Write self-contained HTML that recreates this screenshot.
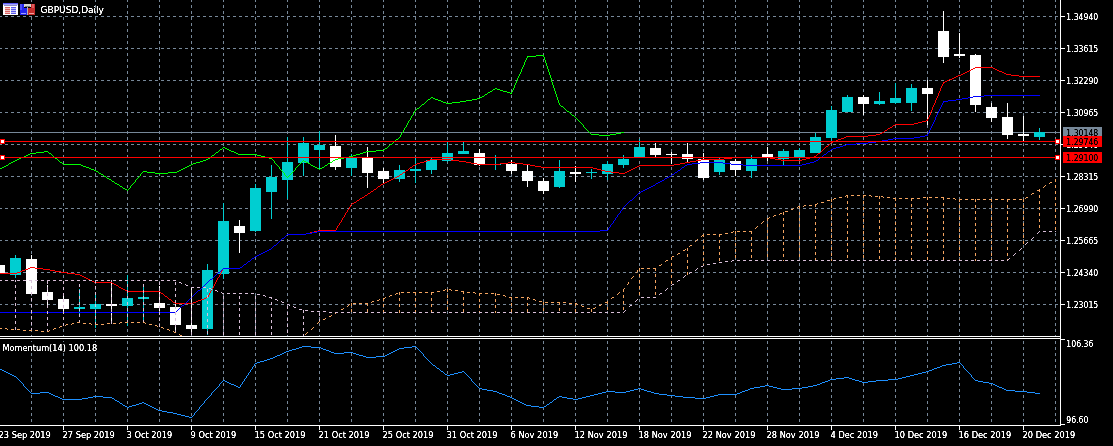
<!DOCTYPE html><html><head><meta charset="utf-8"><title>GBPUSD,Daily</title><style>html,body{margin:0;padding:0;background:#000;width:1113px;height:446px;overflow:hidden}svg{display:block}</style></head><body><svg width="1113" height="446" viewBox="0 0 1113 446" shape-rendering="crispEdges"><rect x="0" y="0" width="1113" height="446" fill="#000"/><defs><clipPath id="cm"><rect x="0" y="0" width="1060" height="336"/></clipPath><clipPath id="cs"><rect x="0" y="339" width="1060" height="86"/></clipPath></defs><path d="M31.5 0V336M63.5 0V336M95.5 0V336M127.5 0V336M159.5 0V336M191.5 0V336M223.5 0V336M255.5 0V336M287.5 0V336M319.5 0V336M351.5 0V336M383.5 0V336M415.5 0V336M447.5 0V336M479.5 0V336M511.5 0V336M543.5 0V336M575.5 0V336M607.5 0V336M639.5 0V336M671.5 0V336M703.5 0V336M735.5 0V336M767.5 0V336M799.5 0V336M831.5 0V336M863.5 0V336M895.5 0V336M927.5 0V336M959.5 0V336M991.5 0V336M1023.5 0V336M1055.5 0V336M0 16.5H1060M0 48.5H1060M0 80.5H1060M0 112.5H1060M0 144.5H1060M0 176.5H1060M0 208.5H1060M0 240.5H1060M0 272.5H1060M0 304.5H1060" stroke="#778899" stroke-width="1" stroke-dasharray="3 3" stroke-dashoffset="1" fill="none"/><path d="M31.5 339V425M63.5 339V425M95.5 339V425M127.5 339V425M159.5 339V425M191.5 339V425M223.5 339V425M255.5 339V425M287.5 339V425M319.5 339V425M351.5 339V425M383.5 339V425M415.5 339V425M447.5 339V425M479.5 339V425M511.5 339V425M543.5 339V425M575.5 339V425M607.5 339V425M639.5 339V425M671.5 339V425M703.5 339V425M735.5 339V425M767.5 339V425M799.5 339V425M831.5 339V425M863.5 339V425M895.5 339V425M927.5 339V425M959.5 339V425M991.5 339V425M1023.5 339V425M1055.5 339V425" stroke="#778899" stroke-width="1" stroke-dasharray="3 3" stroke-dashoffset="4" fill="none"/><g clip-path="url(#cm)"><path d="M0 132.5H1060" stroke="#778899" fill="none"/><rect x="-1" y="262" width="1" height="15" fill="#FFFFFF"/><rect x="-6" y="265" width="11" height="8" fill="#FFFFFF"/><rect x="15" y="255" width="1" height="23" fill="#00CED1"/><rect x="10" y="258" width="11" height="17" fill="#00CED1"/><rect x="31" y="255" width="1" height="39" fill="#FFFFFF"/><rect x="26" y="259" width="11" height="35" fill="#FFFFFF"/><rect x="47" y="285" width="1" height="20" fill="#FFFFFF"/><rect x="42" y="292" width="11" height="8" fill="#FFFFFF"/><rect x="63" y="294" width="1" height="18" fill="#FFFFFF"/><rect x="58" y="299" width="11" height="10" fill="#FFFFFF"/><rect x="79" y="289" width="1" height="28" fill="#00CED1"/><rect x="74" y="307" width="11" height="2" fill="#00CED1"/><rect x="95" y="294" width="1" height="34" fill="#00CED1"/><rect x="90" y="304" width="11" height="5" fill="#00CED1"/><rect x="111" y="283" width="1" height="41" fill="#FFFFFF"/><rect x="106" y="304" width="11" height="2" fill="#FFFFFF"/><rect x="127" y="275" width="1" height="51" fill="#00CED1"/><rect x="122" y="298" width="11" height="8" fill="#00CED1"/><rect x="143" y="284" width="1" height="38" fill="#00CED1"/><rect x="138" y="297" width="11" height="2" fill="#00CED1"/><rect x="159" y="286" width="1" height="25" fill="#FFFFFF"/><rect x="154" y="303" width="11" height="5" fill="#FFFFFF"/><rect x="175" y="304" width="1" height="29" fill="#FFFFFF"/><rect x="170" y="307" width="11" height="18" fill="#FFFFFF"/><rect x="191" y="287" width="1" height="46" fill="#FFFFFF"/><rect x="186" y="325" width="11" height="4" fill="#FFFFFF"/><rect x="207" y="264" width="1" height="71" fill="#00CED1"/><rect x="202" y="270" width="11" height="59" fill="#00CED1"/><rect x="223" y="203" width="1" height="76" fill="#00CED1"/><rect x="218" y="221" width="11" height="53" fill="#00CED1"/><rect x="239" y="220" width="1" height="33" fill="#FFFFFF"/><rect x="234" y="226" width="11" height="7" fill="#FFFFFF"/><rect x="255" y="184" width="1" height="48" fill="#00CED1"/><rect x="250" y="188" width="11" height="43" fill="#00CED1"/><rect x="271" y="165" width="1" height="54" fill="#00CED1"/><rect x="266" y="177" width="11" height="15" fill="#00CED1"/><rect x="287" y="137" width="1" height="62" fill="#00CED1"/><rect x="282" y="162" width="11" height="18" fill="#00CED1"/><rect x="303" y="137" width="1" height="39" fill="#00CED1"/><rect x="298" y="143" width="11" height="20" fill="#00CED1"/><rect x="319" y="131" width="1" height="39" fill="#00CED1"/><rect x="314" y="145" width="11" height="5" fill="#00CED1"/><rect x="335" y="135" width="1" height="35" fill="#FFFFFF"/><rect x="330" y="146" width="11" height="21" fill="#FFFFFF"/><rect x="351" y="154" width="1" height="22" fill="#00CED1"/><rect x="346" y="158" width="11" height="10" fill="#00CED1"/><rect x="367" y="147" width="1" height="41" fill="#FFFFFF"/><rect x="362" y="158" width="11" height="15" fill="#FFFFFF"/><rect x="383" y="168" width="1" height="15" fill="#FFFFFF"/><rect x="378" y="171" width="11" height="8" fill="#FFFFFF"/><rect x="399" y="165" width="1" height="17" fill="#00CED1"/><rect x="394" y="170" width="11" height="9" fill="#00CED1"/><rect x="415" y="158" width="1" height="25" fill="#00CED1"/><rect x="410" y="169" width="11" height="2" fill="#00CED1"/><rect x="431" y="158" width="1" height="16" fill="#00CED1"/><rect x="426" y="160" width="11" height="10" fill="#00CED1"/><rect x="447" y="142" width="1" height="20" fill="#00CED1"/><rect x="442" y="153" width="11" height="8" fill="#00CED1"/><rect x="463" y="142" width="1" height="12" fill="#00CED1"/><rect x="458" y="151" width="11" height="3" fill="#00CED1"/><rect x="479" y="149" width="1" height="17" fill="#FFFFFF"/><rect x="474" y="153" width="11" height="12" fill="#FFFFFF"/><rect x="495" y="155" width="1" height="15" fill="#00CED1"/><rect x="490" y="164" width="11" height="1" fill="#00CED1"/><rect x="511" y="160" width="1" height="14" fill="#FFFFFF"/><rect x="506" y="164" width="11" height="7" fill="#FFFFFF"/><rect x="527" y="165" width="1" height="22" fill="#FFFFFF"/><rect x="522" y="171" width="11" height="10" fill="#FFFFFF"/><rect x="543" y="178" width="1" height="16" fill="#FFFFFF"/><rect x="538" y="181" width="11" height="10" fill="#FFFFFF"/><rect x="559" y="160" width="1" height="28" fill="#00CED1"/><rect x="554" y="171" width="11" height="16" fill="#00CED1"/><rect x="575" y="166" width="1" height="16" fill="#FFFFFF"/><rect x="570" y="172" width="11" height="2" fill="#FFFFFF"/><rect x="591" y="169" width="1" height="10" fill="#00CED1"/><rect x="586" y="172" width="11" height="1" fill="#00CED1"/><rect x="607" y="161" width="1" height="19" fill="#00CED1"/><rect x="602" y="164" width="11" height="10" fill="#00CED1"/><rect x="623" y="155" width="1" height="13" fill="#00CED1"/><rect x="618" y="159" width="11" height="6" fill="#00CED1"/><rect x="639" y="139" width="1" height="18" fill="#00CED1"/><rect x="634" y="147" width="11" height="10" fill="#00CED1"/><rect x="655" y="143" width="1" height="14" fill="#FFFFFF"/><rect x="650" y="148" width="11" height="7" fill="#FFFFFF"/><rect x="671" y="152" width="1" height="12" fill="#FFFFFF"/><rect x="666" y="154" width="11" height="1" fill="#FFFFFF"/><rect x="687" y="143" width="1" height="19" fill="#FFFFFF"/><rect x="682" y="154" width="11" height="5" fill="#FFFFFF"/><rect x="703" y="153" width="1" height="27" fill="#FFFFFF"/><rect x="698" y="159" width="11" height="19" fill="#FFFFFF"/><rect x="719" y="158" width="1" height="17" fill="#00CED1"/><rect x="714" y="160" width="11" height="12" fill="#00CED1"/><rect x="735" y="159" width="1" height="17" fill="#FFFFFF"/><rect x="730" y="161" width="11" height="9" fill="#FFFFFF"/><rect x="751" y="155" width="1" height="23" fill="#00CED1"/><rect x="746" y="159" width="11" height="12" fill="#00CED1"/><rect x="767" y="147" width="1" height="14" fill="#FFFFFF"/><rect x="762" y="154" width="11" height="3" fill="#FFFFFF"/><rect x="783" y="149" width="1" height="16" fill="#00CED1"/><rect x="778" y="151" width="11" height="8" fill="#00CED1"/><rect x="799" y="148" width="1" height="13" fill="#00CED1"/><rect x="794" y="150" width="11" height="7" fill="#00CED1"/><rect x="815" y="133" width="1" height="20" fill="#00CED1"/><rect x="810" y="137" width="11" height="16" fill="#00CED1"/><rect x="831" y="106" width="1" height="36" fill="#00CED1"/><rect x="826" y="110" width="11" height="28" fill="#00CED1"/><rect x="847" y="95" width="1" height="17" fill="#00CED1"/><rect x="842" y="97" width="11" height="15" fill="#00CED1"/><rect x="863" y="95" width="1" height="20" fill="#FFFFFF"/><rect x="858" y="97" width="11" height="7" fill="#FFFFFF"/><rect x="879" y="92" width="1" height="13" fill="#00CED1"/><rect x="874" y="101" width="11" height="3" fill="#00CED1"/><rect x="895" y="83" width="1" height="21" fill="#00CED1"/><rect x="890" y="98" width="11" height="5" fill="#00CED1"/><rect x="911" y="84" width="1" height="27" fill="#00CED1"/><rect x="906" y="88" width="11" height="15" fill="#00CED1"/><rect x="927" y="80" width="1" height="45" fill="#FFFFFF"/><rect x="922" y="88" width="11" height="6" fill="#FFFFFF"/><rect x="943" y="11" width="1" height="52" fill="#FFFFFF"/><rect x="938" y="31" width="11" height="26" fill="#FFFFFF"/><rect x="959" y="33" width="1" height="25" fill="#FFFFFF"/><rect x="954" y="54" width="11" height="2" fill="#FFFFFF"/><rect x="975" y="54" width="1" height="58" fill="#FFFFFF"/><rect x="970" y="55" width="11" height="50" fill="#FFFFFF"/><rect x="991" y="103" width="1" height="19" fill="#FFFFFF"/><rect x="986" y="107" width="11" height="11" fill="#FFFFFF"/><rect x="1007" y="103" width="1" height="36" fill="#FFFFFF"/><rect x="1002" y="117" width="11" height="18" fill="#FFFFFF"/><rect x="1023" y="116" width="1" height="25" fill="#FFFFFF"/><rect x="1018" y="134" width="11" height="2" fill="#FFFFFF"/><rect x="1039" y="128" width="1" height="12" fill="#00CED1"/><rect x="1034" y="132" width="11" height="5" fill="#00CED1"/><path d="M975 67h18v1h-18zM973 68h2v1h-2zM993 68h2v1h-2zM971 69h2v1h-2zM995 69h2v1h-2zM969 70h2v1h-2zM997 70h2v1h-2zM967 71h2v1h-2zM999 71h3v1h-3zM965 72h2v1h-2zM1002 72h2v1h-2zM963 73h2v1h-2zM1004 73h2v1h-2zM961 74h2v1h-2zM1006 74h5v1h-5zM958 75h3v1h-3zM1011 75h8v1h-8zM956 76h2v1h-2zM1019 76h21v1h-21zM954 77h2v1h-2zM952 78h2v1h-2zM949 79h3v1h-3zM947 80h2v1h-2zM945 81h2v1h-2zM943 82h2v1h-2zM943 83h1v1h-1zM942 84h1v1h-1zM942 85h1v1h-1zM941 86h1v1h-1zM941 87h1v1h-1zM940 88h1v1h-1zM940 89h1v1h-1zM940 90h1v1h-1zM939 91h1v1h-1zM939 92h1v1h-1zM938 93h1v1h-1zM938 94h1v1h-1zM938 95h1v1h-1zM937 96h1v1h-1zM937 97h1v1h-1zM936 98h1v1h-1zM936 99h1v1h-1zM935 100h1v1h-1zM935 101h1v1h-1zM935 102h1v1h-1zM934 103h1v1h-1zM934 104h1v1h-1zM933 105h1v1h-1zM933 106h1v1h-1zM932 107h1v1h-1zM932 108h1v1h-1zM932 109h1v1h-1zM931 110h1v1h-1zM931 111h1v1h-1zM930 112h1v1h-1zM930 113h1v1h-1zM930 114h1v1h-1zM929 115h1v1h-1zM929 116h1v1h-1zM928 117h1v1h-1zM928 118h1v1h-1zM927 119h1v1h-1zM926 120h2v1h-2zM922 121h4v1h-4zM918 122h4v1h-4zM914 123h4v1h-4zM895 124h19v1h-19zM893 125h2v1h-2zM892 126h1v1h-1zM890 127h2v1h-2zM888 128h2v1h-2zM887 129h1v1h-1zM885 130h2v1h-2zM884 131h1v1h-1zM882 132h2v1h-2zM880 133h2v1h-2zM876 134h4v1h-4zM868 135h8v1h-8zM846 136h22v1h-22zM844 137h2v1h-2zM841 138h3v1h-3zM838 139h3v1h-3zM836 140h2v1h-2zM833 141h3v1h-3zM831 142h2v1h-2zM830 143h1v1h-1zM829 144h1v1h-1zM828 145h1v1h-1zM826 146h2v1h-2zM825 147h1v1h-1zM824 148h1v1h-1zM823 149h1v1h-1zM822 150h1v1h-1zM821 151h1v1h-1zM820 152h1v1h-1zM818 153h2v1h-2zM817 154h1v1h-1zM816 155h1v1h-1zM814 156h2v1h-2zM732 157h38v1h-38zM810 157h4v1h-4zM724 158h8v1h-8zM770 158h5v1h-5zM806 158h4v1h-4zM430 159h21v1h-21zM701 159h23v1h-23zM775 159h6v1h-6zM802 159h4v1h-4zM427 160h3v1h-3zM451 160h8v1h-8zM696 160h5v1h-5zM781 160h21v1h-21zM424 161h3v1h-3zM459 161h7v1h-7zM690 161h6v1h-6zM420 162h4v1h-4zM466 162h5v1h-5zM508 162h7v1h-7zM685 162h5v1h-5zM417 163h3v1h-3zM471 163h6v1h-6zM500 163h8v1h-8zM515 163h8v1h-8zM680 163h5v1h-5zM415 164h2v1h-2zM477 164h23v1h-23zM523 164h7v1h-7zM674 164h6v1h-6zM413 165h2v1h-2zM530 165h5v1h-5zM639 165h35v1h-35zM412 166h1v1h-1zM535 166h6v1h-6zM637 166h2v1h-2zM410 167h2v1h-2zM541 167h52v1h-52zM635 167h2v1h-2zM409 168h1v1h-1zM593 168h4v1h-4zM633 168h2v1h-2zM408 169h1v1h-1zM597 169h4v1h-4zM631 169h2v1h-2zM406 170h2v1h-2zM601 170h4v1h-4zM629 170h2v1h-2zM405 171h1v1h-1zM605 171h6v1h-6zM627 171h2v1h-2zM403 172h2v1h-2zM611 172h8v1h-8zM625 172h2v1h-2zM402 173h1v1h-1zM619 173h6v1h-6zM400 174h2v1h-2zM399 175h1v1h-1zM397 176h2v1h-2zM395 177h2v1h-2zM393 178h2v1h-2zM391 179h2v1h-2zM389 180h2v1h-2zM387 181h2v1h-2zM385 182h2v1h-2zM383 183h2v1h-2zM381 184h2v1h-2zM380 185h1v1h-1zM378 186h2v1h-2zM377 187h1v1h-1zM376 188h1v1h-1zM374 189h2v1h-2zM373 190h1v1h-1zM371 191h2v1h-2zM370 192h1v1h-1zM368 193h2v1h-2zM367 194h1v1h-1zM365 195h2v1h-2zM364 196h1v1h-1zM362 197h2v1h-2zM360 198h2v1h-2zM359 199h1v1h-1zM357 200h2v1h-2zM356 201h1v1h-1zM354 202h2v1h-2zM352 203h2v1h-2zM351 204h1v1h-1zM350 205h1v1h-1zM350 206h1v1h-1zM349 207h1v1h-1zM349 208h1v1h-1zM348 209h1v1h-1zM347 210h1v1h-1zM347 211h1v1h-1zM346 212h1v1h-1zM345 213h1v1h-1zM345 214h1v1h-1zM344 215h1v1h-1zM344 216h1v1h-1zM343 217h1v1h-1zM342 218h1v1h-1zM342 219h1v1h-1zM341 220h1v1h-1zM341 221h1v1h-1zM340 222h1v1h-1zM339 223h1v1h-1zM339 224h1v1h-1zM338 225h1v1h-1zM337 226h1v1h-1zM337 227h1v1h-1zM336 228h1v1h-1zM336 229h1v1h-1zM318 230h18v1h-18zM314 231h4v1h-4zM310 232h4v1h-4zM306 233h4v1h-4zM287 234h19v1h-19zM286 235h1v1h-1zM285 236h1v1h-1zM284 237h1v1h-1zM282 238h2v1h-2zM281 239h1v1h-1zM280 240h1v1h-1zM279 241h1v1h-1zM278 242h1v1h-1zM277 243h1v1h-1zM276 244h1v1h-1zM274 245h2v1h-2zM273 246h1v1h-1zM272 247h1v1h-1zM271 248h1v1h-1zM269 249h2v1h-2zM267 250h2v1h-2zM265 251h2v1h-2zM263 252h2v1h-2zM261 253h2v1h-2zM259 254h2v1h-2zM257 255h2v1h-2zM255 256h2v1h-2zM254 257h1v1h-1zM252 258h2v1h-2zM251 259h1v1h-1zM250 260h1v1h-1zM248 261h2v1h-2zM247 262h1v1h-1zM246 263h1v1h-1zM244 264h2v1h-2zM243 265h1v1h-1zM242 266h1v1h-1zM30 267h5v1h-5zM240 267h2v1h-2zM28 268h2v1h-2zM35 268h8v1h-8zM223 268h17v1h-17zM25 269h3v1h-3zM43 269h7v1h-7zM222 269h1v1h-1zM22 270h3v1h-3zM50 270h5v1h-5zM222 270h1v1h-1zM20 271h2v1h-2zM55 271h6v1h-6zM221 271h1v1h-1zM17 272h3v1h-3zM61 272h6v1h-6zM221 272h1v1h-1zM0 273h17v1h-17zM67 273h8v1h-8zM220 273h1v1h-1zM75 274h5v1h-5zM220 274h1v1h-1zM80 275h2v1h-2zM219 275h1v1h-1zM82 276h2v1h-2zM219 276h1v1h-1zM84 277h2v1h-2zM218 277h1v1h-1zM86 278h2v1h-2zM217 278h1v1h-1zM88 279h2v1h-2zM217 279h1v1h-1zM90 280h2v1h-2zM216 280h1v1h-1zM92 281h2v1h-2zM216 281h1v1h-1zM94 282h18v1h-18zM215 282h1v1h-1zM112 283h2v1h-2zM215 283h1v1h-1zM114 284h2v1h-2zM214 284h1v1h-1zM116 285h2v1h-2zM214 285h1v1h-1zM118 286h1v1h-1zM213 286h1v1h-1zM119 287h2v1h-2zM213 287h1v1h-1zM121 288h2v1h-2zM212 288h1v1h-1zM123 289h2v1h-2zM211 289h1v1h-1zM125 290h2v1h-2zM211 290h1v1h-1zM127 291h33v1h-33zM210 291h1v1h-1zM160 292h1v1h-1zM210 292h1v1h-1zM161 293h2v1h-2zM209 293h1v1h-1zM163 294h1v1h-1zM209 294h1v1h-1zM164 295h1v1h-1zM208 295h1v1h-1zM165 296h2v1h-2zM208 296h1v1h-1zM167 297h1v1h-1zM206 297h2v1h-2zM168 298h1v1h-1zM204 298h2v1h-2zM169 299h2v1h-2zM201 299h3v1h-3zM171 300h1v1h-1zM198 300h3v1h-3zM172 301h1v1h-1zM196 301h2v1h-2zM173 302h2v1h-2zM193 302h3v1h-3zM175 303h18v1h-18z" fill="#FF0000" shape-rendering="crispEdges"/><path d="M984 95h56v1h-56zM973 96h11v1h-11zM968 97h5v1h-5zM962 98h6v1h-6zM956 99h6v1h-6zM948 100h8v1h-8zM943 101h5v1h-5zM943 102h1v1h-1zM942 103h1v1h-1zM942 104h1v1h-1zM941 105h1v1h-1zM941 106h1v1h-1zM940 107h1v1h-1zM940 108h1v1h-1zM939 109h1v1h-1zM939 110h1v1h-1zM938 111h1v1h-1zM938 112h1v1h-1zM937 113h1v1h-1zM937 114h1v1h-1zM936 115h1v1h-1zM936 116h1v1h-1zM935 117h1v1h-1zM935 118h1v1h-1zM935 119h1v1h-1zM934 120h1v1h-1zM934 121h1v1h-1zM933 122h1v1h-1zM933 123h1v1h-1zM932 124h1v1h-1zM932 125h1v1h-1zM931 126h1v1h-1zM931 127h1v1h-1zM930 128h1v1h-1zM930 129h1v1h-1zM929 130h1v1h-1zM929 131h1v1h-1zM928 132h1v1h-1zM928 133h1v1h-1zM927 134h1v1h-1zM925 135h3v1h-3zM920 136h5v1h-5zM914 137h6v1h-6zM893 138h21v1h-21zM888 139h5v1h-5zM882 140h6v1h-6zM876 141h6v1h-6zM868 142h8v1h-8zM856 143h12v1h-12zM846 144h10v1h-10zM843 145h3v1h-3zM840 146h3v1h-3zM836 147h4v1h-4zM833 148h3v1h-3zM831 149h2v1h-2zM830 150h1v1h-1zM828 151h2v1h-2zM827 152h1v1h-1zM826 153h1v1h-1zM824 154h2v1h-2zM823 155h1v1h-1zM822 156h1v1h-1zM820 157h2v1h-2zM819 158h1v1h-1zM818 159h1v1h-1zM816 160h2v1h-2zM814 161h2v1h-2zM700 162h23v1h-23zM810 162h4v1h-4zM692 163h8v1h-8zM723 163h8v1h-8zM806 163h4v1h-4zM687 164h5v1h-5zM731 164h12v1h-12zM802 164h4v1h-4zM685 165h2v1h-2zM743 165h59v1h-59zM684 166h1v1h-1zM682 167h2v1h-2zM681 168h1v1h-1zM680 169h1v1h-1zM678 170h2v1h-2zM677 171h1v1h-1zM675 172h2v1h-2zM674 173h1v1h-1zM672 174h2v1h-2zM671 175h1v1h-1zM669 176h2v1h-2zM667 177h2v1h-2zM665 178h2v1h-2zM664 179h1v1h-1zM662 180h2v1h-2zM660 181h2v1h-2zM658 182h2v1h-2zM656 183h2v1h-2zM655 184h1v1h-1zM653 185h2v1h-2zM651 186h2v1h-2zM649 187h2v1h-2zM647 188h2v1h-2zM645 189h2v1h-2zM643 190h2v1h-2zM641 191h2v1h-2zM639 192h2v1h-2zM638 193h1v1h-1zM637 194h1v1h-1zM636 195h1v1h-1zM635 196h1v1h-1zM634 197h1v1h-1zM633 198h1v1h-1zM632 199h1v1h-1zM630 200h2v1h-2zM629 201h1v1h-1zM628 202h1v1h-1zM627 203h1v1h-1zM626 204h1v1h-1zM625 205h1v1h-1zM624 206h1v1h-1zM623 207h1v1h-1zM622 208h1v1h-1zM622 209h1v1h-1zM621 210h1v1h-1zM620 211h1v1h-1zM620 212h1v1h-1zM619 213h1v1h-1zM618 214h1v1h-1zM617 215h1v1h-1zM617 216h1v1h-1zM616 217h1v1h-1zM615 218h1v1h-1zM615 219h1v1h-1zM614 220h1v1h-1zM613 221h1v1h-1zM613 222h1v1h-1zM612 223h1v1h-1zM611 224h1v1h-1zM610 225h1v1h-1zM610 226h1v1h-1zM609 227h1v1h-1zM608 228h1v1h-1zM608 229h1v1h-1zM600 230h8v1h-8zM317 231h283v1h-283zM312 232h5v1h-5zM306 233h6v1h-6zM287 234h19v1h-19zM286 235h1v1h-1zM285 236h1v1h-1zM284 237h1v1h-1zM282 238h2v1h-2zM281 239h1v1h-1zM280 240h1v1h-1zM279 241h1v1h-1zM278 242h1v1h-1zM277 243h1v1h-1zM276 244h1v1h-1zM274 245h2v1h-2zM273 246h1v1h-1zM272 247h1v1h-1zM271 248h1v1h-1zM269 249h2v1h-2zM267 250h2v1h-2zM265 251h2v1h-2zM263 252h2v1h-2zM261 253h2v1h-2zM259 254h2v1h-2zM257 255h2v1h-2zM255 256h2v1h-2zM254 257h1v1h-1zM252 258h2v1h-2zM251 259h1v1h-1zM250 260h1v1h-1zM248 261h2v1h-2zM247 262h1v1h-1zM246 263h1v1h-1zM244 264h2v1h-2zM243 265h1v1h-1zM242 266h1v1h-1zM240 267h2v1h-2zM223 268h17v1h-17zM222 269h1v1h-1zM221 270h1v1h-1zM220 271h1v1h-1zM218 272h2v1h-2zM217 273h1v1h-1zM216 274h1v1h-1zM215 275h1v1h-1zM214 276h1v1h-1zM213 277h1v1h-1zM212 278h1v1h-1zM210 279h2v1h-2zM209 280h1v1h-1zM208 281h1v1h-1zM207 282h1v1h-1zM206 283h1v1h-1zM205 284h1v1h-1zM204 285h1v1h-1zM203 286h1v1h-1zM202 287h1v1h-1zM201 288h1v1h-1zM200 289h1v1h-1zM198 290h2v1h-2zM197 291h1v1h-1zM196 292h1v1h-1zM195 293h1v1h-1zM194 294h1v1h-1zM193 295h1v1h-1zM192 296h1v1h-1zM191 297h1v1h-1zM190 298h1v1h-1zM189 299h1v1h-1zM188 300h1v1h-1zM187 301h1v1h-1zM186 302h1v1h-1zM185 303h1v1h-1zM184 304h1v1h-1zM182 305h2v1h-2zM181 306h1v1h-1zM180 307h1v1h-1zM179 308h1v1h-1zM178 309h1v1h-1zM177 310h1v1h-1zM176 311h1v1h-1zM0 312h176v1h-176z" fill="#0000FF" shape-rendering="crispEdges"/><path d="M15 280h1v1h-1zM31 280h1v1h-1zM79 280h1v1h-1zM95 280h1v1h-1zM111 280h1v1h-1zM127 280h1v1h-1zM143 280h1v1h-1zM15 281h1v1h-1zM31 281h1v1h-1zM47 281h1v1h-1zM63 281h1v1h-1zM95 281h1v1h-1zM111 281h1v1h-1zM31 282h1v1h-1zM47 282h1v1h-1zM63 282h1v1h-1zM95 282h1v1h-1zM159 282h1v1h-1zM175 282h1v1h-1zM47 283h1v1h-1zM63 283h1v1h-1zM159 283h1v1h-1zM175 283h1v1h-1zM79 284h1v1h-1zM127 284h1v1h-1zM143 284h1v1h-1zM159 284h1v1h-1zM175 284h1v1h-1zM15 285h1v1h-1zM79 285h1v1h-1zM111 285h1v1h-1zM127 285h1v1h-1zM143 285h1v1h-1zM15 286h1v1h-1zM31 286h1v1h-1zM79 286h1v1h-1zM95 286h1v1h-1zM111 286h1v1h-1zM127 286h1v1h-1zM143 286h1v1h-1zM15 287h1v1h-1zM31 287h1v1h-1zM47 287h1v1h-1zM63 287h1v1h-1zM95 287h1v1h-1zM111 287h1v1h-1zM31 288h1v1h-1zM47 288h1v1h-1zM63 288h1v1h-1zM95 288h1v1h-1zM159 288h1v1h-1zM175 288h1v1h-1zM47 289h1v1h-1zM63 289h1v1h-1zM159 289h1v1h-1zM175 289h1v1h-1zM207 289h1v1h-1zM79 290h1v1h-1zM127 290h1v1h-1zM143 290h1v1h-1zM159 290h1v1h-1zM175 290h1v1h-1zM191 290h1v1h-1zM207 290h1v1h-1zM15 291h1v1h-1zM79 291h1v1h-1zM111 291h1v1h-1zM127 291h1v1h-1zM143 291h1v1h-1zM191 291h1v1h-1zM207 291h1v1h-1zM15 292h1v1h-1zM31 292h1v1h-1zM79 292h1v1h-1zM95 292h1v1h-1zM111 292h1v1h-1zM127 292h1v1h-1zM143 292h1v1h-1zM191 292h1v1h-1zM15 293h1v1h-1zM31 293h1v1h-1zM47 293h1v1h-1zM63 293h1v1h-1zM95 293h1v1h-1zM111 293h1v1h-1zM31 294h1v1h-1zM47 294h1v1h-1zM63 294h1v1h-1zM95 294h1v1h-1zM159 294h1v1h-1zM175 294h1v1h-1zM47 295h1v1h-1zM63 295h1v1h-1zM159 295h1v1h-1zM175 295h1v1h-1zM207 295h1v1h-1zM79 296h1v1h-1zM127 296h1v1h-1zM143 296h1v1h-1zM159 296h1v1h-1zM175 296h1v1h-1zM191 296h1v1h-1zM207 296h1v1h-1zM223 296h1v1h-1zM239 296h1v1h-1zM255 296h1v1h-1zM15 297h1v1h-1zM79 297h1v1h-1zM111 297h1v1h-1zM127 297h1v1h-1zM143 297h1v1h-1zM191 297h1v1h-1zM207 297h1v1h-1zM223 297h1v1h-1zM239 297h1v1h-1zM255 297h1v1h-1zM271 297h1v1h-1zM15 298h1v1h-1zM31 298h1v1h-1zM79 298h1v1h-1zM95 298h1v1h-1zM111 298h1v1h-1zM127 298h1v1h-1zM143 298h1v1h-1zM191 298h1v1h-1zM223 298h1v1h-1zM239 298h1v1h-1zM255 298h1v1h-1zM271 298h1v1h-1zM15 299h1v1h-1zM31 299h1v1h-1zM47 299h1v1h-1zM63 299h1v1h-1zM95 299h1v1h-1zM111 299h1v1h-1zM31 300h1v1h-1zM47 300h1v1h-1zM63 300h1v1h-1zM95 300h1v1h-1zM159 300h1v1h-1zM175 300h1v1h-1zM47 301h1v1h-1zM63 301h1v1h-1zM159 301h1v1h-1zM175 301h1v1h-1zM207 301h1v1h-1zM79 302h1v1h-1zM127 302h1v1h-1zM143 302h1v1h-1zM159 302h1v1h-1zM175 302h1v1h-1zM191 302h1v1h-1zM207 302h1v1h-1zM223 302h1v1h-1zM239 302h1v1h-1zM255 302h1v1h-1zM271 302h1v1h-1zM15 303h1v1h-1zM79 303h1v1h-1zM111 303h1v1h-1zM127 303h1v1h-1zM143 303h1v1h-1zM191 303h1v1h-1zM207 303h1v1h-1zM223 303h1v1h-1zM239 303h1v1h-1zM255 303h1v1h-1zM271 303h1v1h-1zM15 304h1v1h-1zM31 304h1v1h-1zM79 304h1v1h-1zM95 304h1v1h-1zM111 304h1v1h-1zM127 304h1v1h-1zM143 304h1v1h-1zM191 304h1v1h-1zM223 304h1v1h-1zM239 304h1v1h-1zM255 304h1v1h-1zM271 304h1v1h-1zM15 305h1v1h-1zM31 305h1v1h-1zM47 305h1v1h-1zM63 305h1v1h-1zM95 305h1v1h-1zM111 305h1v1h-1zM31 306h1v1h-1zM47 306h1v1h-1zM63 306h1v1h-1zM95 306h1v1h-1zM159 306h1v1h-1zM175 306h1v1h-1zM287 306h1v1h-1zM47 307h1v1h-1zM63 307h1v1h-1zM159 307h1v1h-1zM175 307h1v1h-1zM207 307h1v1h-1zM287 307h1v1h-1zM79 308h1v1h-1zM127 308h1v1h-1zM143 308h1v1h-1zM159 308h1v1h-1zM175 308h1v1h-1zM191 308h1v1h-1zM207 308h1v1h-1zM223 308h1v1h-1zM239 308h1v1h-1zM255 308h1v1h-1zM271 308h1v1h-1zM287 308h1v1h-1zM15 309h1v1h-1zM79 309h1v1h-1zM111 309h1v1h-1zM127 309h1v1h-1zM143 309h1v1h-1zM191 309h1v1h-1zM207 309h1v1h-1zM223 309h1v1h-1zM239 309h1v1h-1zM255 309h1v1h-1zM271 309h1v1h-1zM15 310h1v1h-1zM31 310h1v1h-1zM79 310h1v1h-1zM95 310h1v1h-1zM111 310h1v1h-1zM127 310h1v1h-1zM143 310h1v1h-1zM191 310h1v1h-1zM223 310h1v1h-1zM239 310h1v1h-1zM255 310h1v1h-1zM271 310h1v1h-1zM303 310h1v1h-1zM15 311h1v1h-1zM31 311h1v1h-1zM47 311h1v1h-1zM63 311h1v1h-1zM95 311h1v1h-1zM111 311h1v1h-1zM303 311h1v1h-1zM31 312h1v1h-1zM47 312h1v1h-1zM63 312h1v1h-1zM95 312h1v1h-1zM159 312h1v1h-1zM175 312h1v1h-1zM287 312h1v1h-1zM303 312h1v1h-1zM335 312h1v1h-1zM47 313h1v1h-1zM63 313h1v1h-1zM159 313h1v1h-1zM175 313h1v1h-1zM207 313h1v1h-1zM287 313h1v1h-1zM319 313h1v1h-1zM335 313h1v1h-1zM79 314h1v1h-1zM127 314h1v1h-1zM143 314h1v1h-1zM159 314h1v1h-1zM175 314h1v1h-1zM191 314h1v1h-1zM207 314h1v1h-1zM223 314h1v1h-1zM239 314h1v1h-1zM255 314h1v1h-1zM271 314h1v1h-1zM287 314h1v1h-1zM319 314h1v1h-1zM15 315h1v1h-1zM79 315h1v1h-1zM111 315h1v1h-1zM127 315h1v1h-1zM143 315h1v1h-1zM191 315h1v1h-1zM207 315h1v1h-1zM223 315h1v1h-1zM239 315h1v1h-1zM255 315h1v1h-1zM271 315h1v1h-1zM319 315h1v1h-1zM15 316h1v1h-1zM31 316h1v1h-1zM79 316h1v1h-1zM95 316h1v1h-1zM111 316h1v1h-1zM127 316h1v1h-1zM143 316h1v1h-1zM191 316h1v1h-1zM223 316h1v1h-1zM239 316h1v1h-1zM255 316h1v1h-1zM271 316h1v1h-1zM303 316h1v1h-1zM15 317h1v1h-1zM31 317h1v1h-1zM47 317h1v1h-1zM63 317h1v1h-1zM95 317h1v1h-1zM111 317h1v1h-1zM303 317h1v1h-1zM31 318h1v1h-1zM47 318h1v1h-1zM63 318h1v1h-1zM95 318h1v1h-1zM159 318h1v1h-1zM175 318h1v1h-1zM287 318h1v1h-1zM303 318h1v1h-1zM47 319h1v1h-1zM63 319h1v1h-1zM159 319h1v1h-1zM175 319h1v1h-1zM207 319h1v1h-1zM287 319h1v1h-1zM319 319h1v1h-1zM79 320h1v1h-1zM127 320h1v1h-1zM143 320h1v1h-1zM159 320h1v1h-1zM175 320h1v1h-1zM191 320h1v1h-1zM207 320h1v1h-1zM223 320h1v1h-1zM239 320h1v1h-1zM255 320h1v1h-1zM271 320h1v1h-1zM287 320h1v1h-1zM319 320h1v1h-1zM15 321h1v1h-1zM79 321h1v1h-1zM111 321h1v1h-1zM127 321h1v1h-1zM143 321h1v1h-1zM191 321h1v1h-1zM207 321h1v1h-1zM223 321h1v1h-1zM239 321h1v1h-1zM255 321h1v1h-1zM271 321h1v1h-1zM319 321h1v1h-1zM15 322h1v1h-1zM31 322h1v1h-1zM79 322h1v1h-1zM95 322h1v1h-1zM111 322h1v1h-1zM127 322h1v1h-1zM143 322h1v1h-1zM191 322h1v1h-1zM223 322h1v1h-1zM239 322h1v1h-1zM255 322h1v1h-1zM271 322h1v1h-1zM303 322h1v1h-1zM15 323h1v1h-1zM31 323h1v1h-1zM47 323h1v1h-1zM63 323h1v1h-1zM95 323h1v1h-1zM111 323h1v1h-1zM303 323h1v1h-1zM31 324h1v1h-1zM47 324h1v1h-1zM63 324h1v1h-1zM95 324h1v1h-1zM159 324h1v1h-1zM175 324h1v1h-1zM287 324h1v1h-1zM303 324h1v1h-1zM47 325h1v1h-1zM63 325h1v1h-1zM159 325h1v1h-1zM175 325h1v1h-1zM207 325h1v1h-1zM287 325h1v1h-1zM159 326h1v1h-1zM175 326h1v1h-1zM191 326h1v1h-1zM207 326h1v1h-1zM223 326h1v1h-1zM239 326h1v1h-1zM255 326h1v1h-1zM271 326h1v1h-1zM287 326h1v1h-1zM15 327h1v1h-1zM191 327h1v1h-1zM207 327h1v1h-1zM223 327h1v1h-1zM239 327h1v1h-1zM255 327h1v1h-1zM271 327h1v1h-1zM15 328h1v1h-1zM31 328h1v1h-1zM191 328h1v1h-1zM223 328h1v1h-1zM239 328h1v1h-1zM255 328h1v1h-1zM271 328h1v1h-1zM303 328h1v1h-1zM15 329h1v1h-1zM31 329h1v1h-1zM47 329h1v1h-1zM303 329h1v1h-1zM31 330h1v1h-1zM47 330h1v1h-1zM175 330h1v1h-1zM287 330h1v1h-1zM303 330h1v1h-1zM47 331h1v1h-1zM175 331h1v1h-1zM207 331h1v1h-1zM287 331h1v1h-1zM175 332h1v1h-1zM191 332h1v1h-1zM207 332h1v1h-1zM223 332h1v1h-1zM239 332h1v1h-1zM255 332h1v1h-1zM271 332h1v1h-1zM287 332h1v1h-1zM191 333h1v1h-1zM207 333h1v1h-1zM223 333h1v1h-1zM239 333h1v1h-1zM255 333h1v1h-1zM271 333h1v1h-1zM191 334h1v1h-1zM223 334h1v1h-1zM239 334h1v1h-1zM255 334h1v1h-1zM271 334h1v1h-1zM303 334h1v1h-1zM303 335h1v1h-1z" fill="#D8BFD8" shape-rendering="crispEdges"/><path d="M1055 179h1v1h-1zM1055 180h1v1h-1zM1055 181h1v1h-1zM1055 185h1v1h-1zM1055 186h1v1h-1zM1055 187h1v1h-1zM1039 189h1v1h-1zM1039 190h1v1h-1zM1039 191h1v1h-1zM1055 191h1v1h-1zM1055 192h1v1h-1zM1055 193h1v1h-1zM847 195h1v1h-1zM863 195h1v1h-1zM1039 195h1v1h-1zM847 196h1v1h-1zM863 196h1v1h-1zM879 196h1v1h-1zM1039 196h1v1h-1zM847 197h1v1h-1zM863 197h1v1h-1zM879 197h1v1h-1zM927 197h1v1h-1zM943 197h1v1h-1zM1039 197h1v1h-1zM1055 197h1v1h-1zM879 198h1v1h-1zM895 198h1v1h-1zM911 198h1v1h-1zM927 198h1v1h-1zM943 198h1v1h-1zM1055 198h1v1h-1zM831 199h1v1h-1zM895 199h1v1h-1zM911 199h1v1h-1zM927 199h1v1h-1zM943 199h1v1h-1zM959 199h1v1h-1zM975 199h1v1h-1zM991 199h1v1h-1zM1007 199h1v1h-1zM1023 199h1v1h-1zM1055 199h1v1h-1zM831 200h1v1h-1zM895 200h1v1h-1zM911 200h1v1h-1zM959 200h1v1h-1zM975 200h1v1h-1zM991 200h1v1h-1zM1007 200h1v1h-1zM1023 200h1v1h-1zM831 201h1v1h-1zM847 201h1v1h-1zM863 201h1v1h-1zM959 201h1v1h-1zM975 201h1v1h-1zM991 201h1v1h-1zM1007 201h1v1h-1zM1023 201h1v1h-1zM1039 201h1v1h-1zM847 202h1v1h-1zM863 202h1v1h-1zM879 202h1v1h-1zM1039 202h1v1h-1zM847 203h1v1h-1zM863 203h1v1h-1zM879 203h1v1h-1zM927 203h1v1h-1zM943 203h1v1h-1zM1039 203h1v1h-1zM1055 203h1v1h-1zM815 204h1v1h-1zM879 204h1v1h-1zM895 204h1v1h-1zM911 204h1v1h-1zM927 204h1v1h-1zM943 204h1v1h-1zM1055 204h1v1h-1zM815 205h1v1h-1zM831 205h1v1h-1zM895 205h1v1h-1zM911 205h1v1h-1zM927 205h1v1h-1zM943 205h1v1h-1zM959 205h1v1h-1zM975 205h1v1h-1zM991 205h1v1h-1zM1007 205h1v1h-1zM1023 205h1v1h-1zM1055 205h1v1h-1zM799 206h1v1h-1zM815 206h1v1h-1zM831 206h1v1h-1zM895 206h1v1h-1zM911 206h1v1h-1zM959 206h1v1h-1zM975 206h1v1h-1zM991 206h1v1h-1zM1007 206h1v1h-1zM1023 206h1v1h-1zM799 207h1v1h-1zM831 207h1v1h-1zM847 207h1v1h-1zM863 207h1v1h-1zM959 207h1v1h-1zM975 207h1v1h-1zM991 207h1v1h-1zM1007 207h1v1h-1zM1023 207h1v1h-1zM1039 207h1v1h-1zM799 208h1v1h-1zM847 208h1v1h-1zM863 208h1v1h-1zM879 208h1v1h-1zM1039 208h1v1h-1zM847 209h1v1h-1zM863 209h1v1h-1zM879 209h1v1h-1zM927 209h1v1h-1zM943 209h1v1h-1zM1039 209h1v1h-1zM1055 209h1v1h-1zM815 210h1v1h-1zM879 210h1v1h-1zM895 210h1v1h-1zM911 210h1v1h-1zM927 210h1v1h-1zM943 210h1v1h-1zM1055 210h1v1h-1zM815 211h1v1h-1zM831 211h1v1h-1zM895 211h1v1h-1zM911 211h1v1h-1zM927 211h1v1h-1zM943 211h1v1h-1zM959 211h1v1h-1zM975 211h1v1h-1zM991 211h1v1h-1zM1007 211h1v1h-1zM1023 211h1v1h-1zM1055 211h1v1h-1zM783 212h1v1h-1zM799 212h1v1h-1zM815 212h1v1h-1zM831 212h1v1h-1zM895 212h1v1h-1zM911 212h1v1h-1zM959 212h1v1h-1zM975 212h1v1h-1zM991 212h1v1h-1zM1007 212h1v1h-1zM1023 212h1v1h-1zM783 213h1v1h-1zM799 213h1v1h-1zM831 213h1v1h-1zM847 213h1v1h-1zM863 213h1v1h-1zM959 213h1v1h-1zM975 213h1v1h-1zM991 213h1v1h-1zM1007 213h1v1h-1zM1023 213h1v1h-1zM1039 213h1v1h-1zM783 214h1v1h-1zM799 214h1v1h-1zM847 214h1v1h-1zM863 214h1v1h-1zM879 214h1v1h-1zM1039 214h1v1h-1zM847 215h1v1h-1zM863 215h1v1h-1zM879 215h1v1h-1zM927 215h1v1h-1zM943 215h1v1h-1zM1039 215h1v1h-1zM1055 215h1v1h-1zM815 216h1v1h-1zM879 216h1v1h-1zM895 216h1v1h-1zM911 216h1v1h-1zM927 216h1v1h-1zM943 216h1v1h-1zM1055 216h1v1h-1zM815 217h1v1h-1zM831 217h1v1h-1zM895 217h1v1h-1zM911 217h1v1h-1zM927 217h1v1h-1zM943 217h1v1h-1zM959 217h1v1h-1zM975 217h1v1h-1zM991 217h1v1h-1zM1007 217h1v1h-1zM1023 217h1v1h-1zM1055 217h1v1h-1zM767 218h1v1h-1zM783 218h1v1h-1zM799 218h1v1h-1zM815 218h1v1h-1zM831 218h1v1h-1zM895 218h1v1h-1zM911 218h1v1h-1zM959 218h1v1h-1zM975 218h1v1h-1zM991 218h1v1h-1zM1007 218h1v1h-1zM1023 218h1v1h-1zM767 219h1v1h-1zM783 219h1v1h-1zM799 219h1v1h-1zM831 219h1v1h-1zM847 219h1v1h-1zM863 219h1v1h-1zM959 219h1v1h-1zM975 219h1v1h-1zM991 219h1v1h-1zM1007 219h1v1h-1zM1023 219h1v1h-1zM1039 219h1v1h-1zM767 220h1v1h-1zM783 220h1v1h-1zM799 220h1v1h-1zM847 220h1v1h-1zM863 220h1v1h-1zM879 220h1v1h-1zM1039 220h1v1h-1zM847 221h1v1h-1zM863 221h1v1h-1zM879 221h1v1h-1zM927 221h1v1h-1zM943 221h1v1h-1zM1039 221h1v1h-1zM1055 221h1v1h-1zM815 222h1v1h-1zM879 222h1v1h-1zM895 222h1v1h-1zM911 222h1v1h-1zM927 222h1v1h-1zM943 222h1v1h-1zM1055 222h1v1h-1zM815 223h1v1h-1zM831 223h1v1h-1zM895 223h1v1h-1zM911 223h1v1h-1zM927 223h1v1h-1zM943 223h1v1h-1zM959 223h1v1h-1zM975 223h1v1h-1zM991 223h1v1h-1zM1007 223h1v1h-1zM1023 223h1v1h-1zM1055 223h1v1h-1zM767 224h1v1h-1zM783 224h1v1h-1zM799 224h1v1h-1zM815 224h1v1h-1zM831 224h1v1h-1zM895 224h1v1h-1zM911 224h1v1h-1zM959 224h1v1h-1zM975 224h1v1h-1zM991 224h1v1h-1zM1007 224h1v1h-1zM1023 224h1v1h-1zM767 225h1v1h-1zM783 225h1v1h-1zM799 225h1v1h-1zM831 225h1v1h-1zM847 225h1v1h-1zM863 225h1v1h-1zM959 225h1v1h-1zM975 225h1v1h-1zM991 225h1v1h-1zM1007 225h1v1h-1zM1023 225h1v1h-1zM1039 225h1v1h-1zM767 226h1v1h-1zM783 226h1v1h-1zM799 226h1v1h-1zM847 226h1v1h-1zM863 226h1v1h-1zM879 226h1v1h-1zM1039 226h1v1h-1zM847 227h1v1h-1zM863 227h1v1h-1zM879 227h1v1h-1zM927 227h1v1h-1zM943 227h1v1h-1zM1039 227h1v1h-1zM1055 227h1v1h-1zM815 228h1v1h-1zM879 228h1v1h-1zM895 228h1v1h-1zM911 228h1v1h-1zM927 228h1v1h-1zM943 228h1v1h-1zM1055 228h1v1h-1zM815 229h1v1h-1zM831 229h1v1h-1zM895 229h1v1h-1zM911 229h1v1h-1zM927 229h1v1h-1zM943 229h1v1h-1zM959 229h1v1h-1zM975 229h1v1h-1zM991 229h1v1h-1zM1007 229h1v1h-1zM1023 229h1v1h-1zM1055 229h1v1h-1zM767 230h1v1h-1zM783 230h1v1h-1zM799 230h1v1h-1zM815 230h1v1h-1zM831 230h1v1h-1zM895 230h1v1h-1zM911 230h1v1h-1zM959 230h1v1h-1zM975 230h1v1h-1zM991 230h1v1h-1zM1007 230h1v1h-1zM1023 230h1v1h-1zM735 231h1v1h-1zM751 231h1v1h-1zM767 231h1v1h-1zM783 231h1v1h-1zM799 231h1v1h-1zM831 231h1v1h-1zM847 231h1v1h-1zM863 231h1v1h-1zM959 231h1v1h-1zM975 231h1v1h-1zM991 231h1v1h-1zM1007 231h1v1h-1zM1023 231h1v1h-1zM1039 231h1v1h-1zM735 232h1v1h-1zM751 232h1v1h-1zM767 232h1v1h-1zM783 232h1v1h-1zM799 232h1v1h-1zM847 232h1v1h-1zM863 232h1v1h-1zM879 232h1v1h-1zM735 233h1v1h-1zM751 233h1v1h-1zM847 233h1v1h-1zM863 233h1v1h-1zM879 233h1v1h-1zM927 233h1v1h-1zM943 233h1v1h-1zM703 234h1v1h-1zM719 234h1v1h-1zM815 234h1v1h-1zM879 234h1v1h-1zM895 234h1v1h-1zM911 234h1v1h-1zM927 234h1v1h-1zM943 234h1v1h-1zM703 235h1v1h-1zM719 235h1v1h-1zM815 235h1v1h-1zM831 235h1v1h-1zM895 235h1v1h-1zM911 235h1v1h-1zM927 235h1v1h-1zM943 235h1v1h-1zM959 235h1v1h-1zM975 235h1v1h-1zM991 235h1v1h-1zM1007 235h1v1h-1zM1023 235h1v1h-1zM703 236h1v1h-1zM719 236h1v1h-1zM767 236h1v1h-1zM783 236h1v1h-1zM799 236h1v1h-1zM815 236h1v1h-1zM831 236h1v1h-1zM895 236h1v1h-1zM911 236h1v1h-1zM959 236h1v1h-1zM975 236h1v1h-1zM991 236h1v1h-1zM1007 236h1v1h-1zM1023 236h1v1h-1zM735 237h1v1h-1zM751 237h1v1h-1zM767 237h1v1h-1zM783 237h1v1h-1zM799 237h1v1h-1zM831 237h1v1h-1zM847 237h1v1h-1zM863 237h1v1h-1zM959 237h1v1h-1zM975 237h1v1h-1zM991 237h1v1h-1zM1007 237h1v1h-1zM1023 237h1v1h-1zM735 238h1v1h-1zM751 238h1v1h-1zM767 238h1v1h-1zM783 238h1v1h-1zM799 238h1v1h-1zM847 238h1v1h-1zM863 238h1v1h-1zM879 238h1v1h-1zM735 239h1v1h-1zM751 239h1v1h-1zM847 239h1v1h-1zM863 239h1v1h-1zM879 239h1v1h-1zM927 239h1v1h-1zM943 239h1v1h-1zM703 240h1v1h-1zM719 240h1v1h-1zM815 240h1v1h-1zM879 240h1v1h-1zM895 240h1v1h-1zM911 240h1v1h-1zM927 240h1v1h-1zM943 240h1v1h-1zM703 241h1v1h-1zM719 241h1v1h-1zM815 241h1v1h-1zM831 241h1v1h-1zM895 241h1v1h-1zM911 241h1v1h-1zM927 241h1v1h-1zM943 241h1v1h-1zM959 241h1v1h-1zM975 241h1v1h-1zM991 241h1v1h-1zM1007 241h1v1h-1zM1023 241h1v1h-1zM703 242h1v1h-1zM719 242h1v1h-1zM767 242h1v1h-1zM783 242h1v1h-1zM799 242h1v1h-1zM815 242h1v1h-1zM831 242h1v1h-1zM895 242h1v1h-1zM911 242h1v1h-1zM959 242h1v1h-1zM975 242h1v1h-1zM991 242h1v1h-1zM1007 242h1v1h-1zM1023 242h1v1h-1zM735 243h1v1h-1zM751 243h1v1h-1zM767 243h1v1h-1zM783 243h1v1h-1zM799 243h1v1h-1zM831 243h1v1h-1zM847 243h1v1h-1zM863 243h1v1h-1zM959 243h1v1h-1zM975 243h1v1h-1zM991 243h1v1h-1zM1007 243h1v1h-1zM1023 243h1v1h-1zM735 244h1v1h-1zM751 244h1v1h-1zM767 244h1v1h-1zM783 244h1v1h-1zM799 244h1v1h-1zM847 244h1v1h-1zM863 244h1v1h-1zM879 244h1v1h-1zM735 245h1v1h-1zM751 245h1v1h-1zM847 245h1v1h-1zM863 245h1v1h-1zM879 245h1v1h-1zM927 245h1v1h-1zM943 245h1v1h-1zM703 246h1v1h-1zM719 246h1v1h-1zM815 246h1v1h-1zM879 246h1v1h-1zM895 246h1v1h-1zM911 246h1v1h-1zM927 246h1v1h-1zM943 246h1v1h-1zM703 247h1v1h-1zM719 247h1v1h-1zM815 247h1v1h-1zM831 247h1v1h-1zM895 247h1v1h-1zM911 247h1v1h-1zM927 247h1v1h-1zM943 247h1v1h-1zM959 247h1v1h-1zM975 247h1v1h-1zM991 247h1v1h-1zM1007 247h1v1h-1zM687 248h1v1h-1zM703 248h1v1h-1zM719 248h1v1h-1zM767 248h1v1h-1zM783 248h1v1h-1zM799 248h1v1h-1zM815 248h1v1h-1zM831 248h1v1h-1zM895 248h1v1h-1zM911 248h1v1h-1zM959 248h1v1h-1zM975 248h1v1h-1zM991 248h1v1h-1zM1007 248h1v1h-1zM687 249h1v1h-1zM735 249h1v1h-1zM751 249h1v1h-1zM767 249h1v1h-1zM783 249h1v1h-1zM799 249h1v1h-1zM831 249h1v1h-1zM847 249h1v1h-1zM863 249h1v1h-1zM959 249h1v1h-1zM975 249h1v1h-1zM991 249h1v1h-1zM1007 249h1v1h-1zM687 250h1v1h-1zM735 250h1v1h-1zM751 250h1v1h-1zM767 250h1v1h-1zM783 250h1v1h-1zM799 250h1v1h-1zM847 250h1v1h-1zM863 250h1v1h-1zM879 250h1v1h-1zM735 251h1v1h-1zM751 251h1v1h-1zM847 251h1v1h-1zM863 251h1v1h-1zM879 251h1v1h-1zM927 251h1v1h-1zM943 251h1v1h-1zM703 252h1v1h-1zM719 252h1v1h-1zM815 252h1v1h-1zM879 252h1v1h-1zM895 252h1v1h-1zM911 252h1v1h-1zM927 252h1v1h-1zM943 252h1v1h-1zM703 253h1v1h-1zM719 253h1v1h-1zM815 253h1v1h-1zM831 253h1v1h-1zM895 253h1v1h-1zM911 253h1v1h-1zM927 253h1v1h-1zM943 253h1v1h-1zM959 253h1v1h-1zM975 253h1v1h-1zM991 253h1v1h-1zM1007 253h1v1h-1zM687 254h1v1h-1zM703 254h1v1h-1zM719 254h1v1h-1zM767 254h1v1h-1zM783 254h1v1h-1zM799 254h1v1h-1zM815 254h1v1h-1zM831 254h1v1h-1zM895 254h1v1h-1zM911 254h1v1h-1zM959 254h1v1h-1zM975 254h1v1h-1zM991 254h1v1h-1zM1007 254h1v1h-1zM687 255h1v1h-1zM735 255h1v1h-1zM751 255h1v1h-1zM767 255h1v1h-1zM783 255h1v1h-1zM799 255h1v1h-1zM831 255h1v1h-1zM847 255h1v1h-1zM863 255h1v1h-1zM959 255h1v1h-1zM975 255h1v1h-1zM991 255h1v1h-1zM1007 255h1v1h-1zM687 256h1v1h-1zM735 256h1v1h-1zM751 256h1v1h-1zM767 256h1v1h-1zM783 256h1v1h-1zM799 256h1v1h-1zM847 256h1v1h-1zM863 256h1v1h-1zM879 256h1v1h-1zM671 257h1v1h-1zM735 257h1v1h-1zM751 257h1v1h-1zM847 257h1v1h-1zM863 257h1v1h-1zM879 257h1v1h-1zM927 257h1v1h-1zM943 257h1v1h-1zM671 258h1v1h-1zM703 258h1v1h-1zM719 258h1v1h-1zM815 258h1v1h-1zM879 258h1v1h-1zM895 258h1v1h-1zM911 258h1v1h-1zM927 258h1v1h-1zM943 258h1v1h-1zM671 259h1v1h-1zM703 259h1v1h-1zM719 259h1v1h-1zM815 259h1v1h-1zM831 259h1v1h-1zM895 259h1v1h-1zM911 259h1v1h-1zM927 259h1v1h-1zM943 259h1v1h-1zM959 259h1v1h-1zM975 259h1v1h-1zM991 259h1v1h-1zM1007 259h1v1h-1zM687 260h1v1h-1zM703 260h1v1h-1zM719 260h1v1h-1zM767 260h1v1h-1zM783 260h1v1h-1zM799 260h1v1h-1zM815 260h1v1h-1zM831 260h1v1h-1zM895 260h1v1h-1zM911 260h1v1h-1zM959 260h1v1h-1zM975 260h1v1h-1zM991 260h1v1h-1zM1007 260h1v1h-1zM687 261h1v1h-1zM687 262h1v1h-1zM671 263h1v1h-1zM671 264h1v1h-1zM703 264h1v1h-1zM671 265h1v1h-1zM703 265h1v1h-1zM687 266h1v1h-1zM687 267h1v1h-1zM639 268h1v1h-1zM655 268h1v1h-1zM687 268h1v1h-1zM639 269h1v1h-1zM655 269h1v1h-1zM671 269h1v1h-1zM639 270h1v1h-1zM655 270h1v1h-1zM671 270h1v1h-1zM671 271h1v1h-1zM687 272h1v1h-1zM687 273h1v1h-1zM639 274h1v1h-1zM655 274h1v1h-1zM687 274h1v1h-1zM639 275h1v1h-1zM655 275h1v1h-1zM671 275h1v1h-1zM639 276h1v1h-1zM655 276h1v1h-1zM671 276h1v1h-1zM671 277h1v1h-1zM639 280h1v1h-1zM655 280h1v1h-1zM639 281h1v1h-1zM655 281h1v1h-1zM671 281h1v1h-1zM639 282h1v1h-1zM655 282h1v1h-1zM671 282h1v1h-1zM671 283h1v1h-1zM639 286h1v1h-1zM655 286h1v1h-1zM639 287h1v1h-1zM655 287h1v1h-1zM639 288h1v1h-1zM655 288h1v1h-1zM447 289h1v1h-1zM623 289h1v1h-1zM447 290h1v1h-1zM623 290h1v1h-1zM447 291h1v1h-1zM463 291h1v1h-1zM623 291h1v1h-1zM399 292h1v1h-1zM415 292h1v1h-1zM431 292h1v1h-1zM463 292h1v1h-1zM639 292h1v1h-1zM655 292h1v1h-1zM399 293h1v1h-1zM415 293h1v1h-1zM431 293h1v1h-1zM463 293h1v1h-1zM479 293h1v1h-1zM495 293h1v1h-1zM639 293h1v1h-1zM655 293h1v1h-1zM399 294h1v1h-1zM415 294h1v1h-1zM431 294h1v1h-1zM479 294h1v1h-1zM495 294h1v1h-1zM639 294h1v1h-1zM655 294h1v1h-1zM447 295h1v1h-1zM479 295h1v1h-1zM495 295h1v1h-1zM623 295h1v1h-1zM447 296h1v1h-1zM623 296h1v1h-1zM447 297h1v1h-1zM463 297h1v1h-1zM511 297h1v1h-1zM527 297h1v1h-1zM623 297h1v1h-1zM383 298h1v1h-1zM399 298h1v1h-1zM415 298h1v1h-1zM431 298h1v1h-1zM463 298h1v1h-1zM511 298h1v1h-1zM527 298h1v1h-1zM383 299h1v1h-1zM399 299h1v1h-1zM415 299h1v1h-1zM431 299h1v1h-1zM463 299h1v1h-1zM479 299h1v1h-1zM495 299h1v1h-1zM511 299h1v1h-1zM527 299h1v1h-1zM383 300h1v1h-1zM399 300h1v1h-1zM415 300h1v1h-1zM431 300h1v1h-1zM479 300h1v1h-1zM495 300h1v1h-1zM447 301h1v1h-1zM479 301h1v1h-1zM495 301h1v1h-1zM607 301h1v1h-1zM623 301h1v1h-1zM447 302h1v1h-1zM543 302h1v1h-1zM559 302h1v1h-1zM607 302h1v1h-1zM623 302h1v1h-1zM351 303h1v1h-1zM367 303h1v1h-1zM447 303h1v1h-1zM463 303h1v1h-1zM511 303h1v1h-1zM527 303h1v1h-1zM543 303h1v1h-1zM559 303h1v1h-1zM575 303h1v1h-1zM607 303h1v1h-1zM623 303h1v1h-1zM351 304h1v1h-1zM367 304h1v1h-1zM383 304h1v1h-1zM399 304h1v1h-1zM415 304h1v1h-1zM431 304h1v1h-1zM463 304h1v1h-1zM511 304h1v1h-1zM527 304h1v1h-1zM543 304h1v1h-1zM559 304h1v1h-1zM575 304h1v1h-1zM351 305h1v1h-1zM367 305h1v1h-1zM383 305h1v1h-1zM399 305h1v1h-1zM415 305h1v1h-1zM431 305h1v1h-1zM463 305h1v1h-1zM479 305h1v1h-1zM495 305h1v1h-1zM511 305h1v1h-1zM527 305h1v1h-1zM575 305h1v1h-1zM383 306h1v1h-1zM399 306h1v1h-1zM415 306h1v1h-1zM431 306h1v1h-1zM479 306h1v1h-1zM495 306h1v1h-1zM447 307h1v1h-1zM479 307h1v1h-1zM495 307h1v1h-1zM607 307h1v1h-1zM623 307h1v1h-1zM447 308h1v1h-1zM543 308h1v1h-1zM559 308h1v1h-1zM607 308h1v1h-1zM623 308h1v1h-1zM351 309h1v1h-1zM367 309h1v1h-1zM447 309h1v1h-1zM463 309h1v1h-1zM511 309h1v1h-1zM527 309h1v1h-1zM543 309h1v1h-1zM559 309h1v1h-1zM575 309h1v1h-1zM591 309h1v1h-1zM607 309h1v1h-1zM623 309h1v1h-1zM351 310h1v1h-1zM367 310h1v1h-1zM383 310h1v1h-1zM399 310h1v1h-1zM415 310h1v1h-1zM431 310h1v1h-1zM463 310h1v1h-1zM511 310h1v1h-1zM527 310h1v1h-1zM543 310h1v1h-1zM559 310h1v1h-1zM575 310h1v1h-1zM591 310h1v1h-1zM351 311h1v1h-1zM367 311h1v1h-1zM383 311h1v1h-1zM399 311h1v1h-1zM415 311h1v1h-1zM431 311h1v1h-1zM463 311h1v1h-1zM479 311h1v1h-1zM495 311h1v1h-1zM511 311h1v1h-1zM527 311h1v1h-1zM575 311h1v1h-1zM591 311h1v1h-1zM383 312h1v1h-1zM399 312h1v1h-1zM415 312h1v1h-1zM431 312h1v1h-1zM479 312h1v1h-1zM495 312h1v1h-1z" fill="#F4A460" shape-rendering="crispEdges"/><path d="M536 55h8v1h-8zM527 56h9v1h-9zM543 56h1v1h-1zM527 57h1v1h-1zM544 57h1v1h-1zM526 58h1v1h-1zM544 58h1v1h-1zM526 59h1v1h-1zM544 59h1v1h-1zM525 60h1v1h-1zM545 60h1v1h-1zM525 61h1v1h-1zM545 61h1v1h-1zM524 62h1v1h-1zM545 62h1v1h-1zM524 63h1v1h-1zM546 63h1v1h-1zM524 64h1v1h-1zM546 64h1v1h-1zM523 65h1v1h-1zM546 65h1v1h-1zM523 66h1v1h-1zM547 66h1v1h-1zM522 67h1v1h-1zM547 67h1v1h-1zM522 68h1v1h-1zM547 68h1v1h-1zM521 69h1v1h-1zM548 69h1v1h-1zM521 70h1v1h-1zM548 70h1v1h-1zM521 71h1v1h-1zM548 71h1v1h-1zM520 72h1v1h-1zM549 72h1v1h-1zM520 73h1v1h-1zM549 73h1v1h-1zM519 74h1v1h-1zM549 74h1v1h-1zM519 75h1v1h-1zM550 75h1v1h-1zM518 76h1v1h-1zM550 76h1v1h-1zM518 77h1v1h-1zM550 77h1v1h-1zM517 78h1v1h-1zM551 78h1v1h-1zM517 79h1v1h-1zM551 79h1v1h-1zM517 80h1v1h-1zM551 80h1v1h-1zM516 81h1v1h-1zM551 81h1v1h-1zM516 82h1v1h-1zM552 82h1v1h-1zM515 83h1v1h-1zM552 83h1v1h-1zM515 84h1v1h-1zM552 84h1v1h-1zM514 85h1v1h-1zM553 85h1v1h-1zM514 86h1v1h-1zM553 86h1v1h-1zM514 87h1v1h-1zM553 87h1v1h-1zM495 88h2v1h-2zM513 88h1v1h-1zM554 88h1v1h-1zM493 89h2v1h-2zM497 89h3v1h-3zM513 89h1v1h-1zM554 89h1v1h-1zM492 90h1v1h-1zM500 90h3v1h-3zM512 90h1v1h-1zM554 90h1v1h-1zM490 91h2v1h-2zM503 91h4v1h-4zM512 91h1v1h-1zM555 91h1v1h-1zM488 92h2v1h-2zM507 92h3v1h-3zM511 92h1v1h-1zM555 92h1v1h-1zM487 93h1v1h-1zM510 93h2v1h-2zM555 93h1v1h-1zM485 94h2v1h-2zM556 94h1v1h-1zM484 95h1v1h-1zM556 95h1v1h-1zM482 96h2v1h-2zM556 96h1v1h-1zM431 97h2v1h-2zM480 97h2v1h-2zM557 97h1v1h-1zM430 98h1v1h-1zM433 98h2v1h-2zM477 98h3v1h-3zM557 98h1v1h-1zM428 99h2v1h-2zM435 99h3v1h-3zM472 99h5v1h-5zM557 99h1v1h-1zM427 100h1v1h-1zM438 100h3v1h-3zM466 100h6v1h-6zM558 100h1v1h-1zM426 101h1v1h-1zM441 101h2v1h-2zM460 101h6v1h-6zM558 101h1v1h-1zM425 102h1v1h-1zM443 102h3v1h-3zM452 102h8v1h-8zM558 102h1v1h-1zM424 103h1v1h-1zM446 103h6v1h-6zM559 103h1v1h-1zM422 104h2v1h-2zM559 104h1v1h-1zM421 105h1v1h-1zM560 105h1v1h-1zM420 106h1v1h-1zM561 106h2v1h-2zM419 107h1v1h-1zM563 107h1v1h-1zM417 108h2v1h-2zM564 108h1v1h-1zM416 109h1v1h-1zM565 109h1v1h-1zM415 110h1v1h-1zM566 110h1v1h-1zM414 111h1v1h-1zM567 111h2v1h-2zM414 112h1v1h-1zM569 112h1v1h-1zM413 113h1v1h-1zM570 113h1v1h-1zM413 114h1v1h-1zM571 114h1v1h-1zM412 115h1v1h-1zM572 115h2v1h-2zM411 116h1v1h-1zM574 116h1v1h-1zM411 117h1v1h-1zM575 117h1v1h-1zM410 118h1v1h-1zM576 118h1v1h-1zM410 119h1v1h-1zM577 119h1v1h-1zM409 120h1v1h-1zM578 120h1v1h-1zM408 121h1v1h-1zM579 121h1v1h-1zM408 122h1v1h-1zM580 122h1v1h-1zM407 123h1v1h-1zM581 123h1v1h-1zM407 124h1v1h-1zM582 124h1v1h-1zM406 125h1v1h-1zM583 125h1v1h-1zM406 126h1v1h-1zM583 126h1v1h-1zM405 127h1v1h-1zM584 127h1v1h-1zM404 128h1v1h-1zM585 128h1v1h-1zM404 129h1v1h-1zM586 129h1v1h-1zM403 130h1v1h-1zM587 130h1v1h-1zM403 131h1v1h-1zM588 131h1v1h-1zM402 132h1v1h-1zM589 132h1v1h-1zM621 132h3v1h-3zM401 133h1v1h-1zM590 133h1v1h-1zM616 133h5v1h-5zM401 134h1v1h-1zM591 134h8v1h-8zM610 134h6v1h-6zM400 135h1v1h-1zM599 135h11v1h-11zM400 136h1v1h-1zM399 137h1v1h-1zM398 138h1v1h-1zM396 139h2v1h-2zM395 140h1v1h-1zM394 141h1v1h-1zM393 142h1v1h-1zM392 143h1v1h-1zM390 144h2v1h-2zM389 145h1v1h-1zM388 146h1v1h-1zM223 147h2v1h-2zM387 147h1v1h-1zM222 148h1v1h-1zM225 148h2v1h-2zM385 148h2v1h-2zM220 149h2v1h-2zM227 149h2v1h-2zM384 149h1v1h-1zM219 150h1v1h-1zM229 150h2v1h-2zM376 150h8v1h-8zM44 151h4v1h-4zM218 151h1v1h-1zM231 151h3v1h-3zM366 151h10v1h-10zM36 152h8v1h-8zM48 152h1v1h-1zM216 152h2v1h-2zM234 152h2v1h-2zM363 152h3v1h-3zM30 153h6v1h-6zM49 153h2v1h-2zM215 153h1v1h-1zM236 153h2v1h-2zM360 153h3v1h-3zM28 154h2v1h-2zM51 154h1v1h-1zM214 154h1v1h-1zM238 154h19v1h-19zM356 154h4v1h-4zM26 155h2v1h-2zM52 155h1v1h-1zM212 155h2v1h-2zM257 155h4v1h-4zM353 155h3v1h-3zM24 156h2v1h-2zM53 156h1v1h-1zM211 156h1v1h-1zM261 156h4v1h-4zM349 156h4v1h-4zM21 157h3v1h-3zM54 157h1v1h-1zM210 157h1v1h-1zM265 157h4v1h-4zM344 157h5v1h-5zM19 158h2v1h-2zM55 158h2v1h-2zM208 158h2v1h-2zM269 158h3v1h-3zM338 158h6v1h-6zM17 159h2v1h-2zM57 159h1v1h-1zM206 159h2v1h-2zM272 159h1v1h-1zM335 159h3v1h-3zM15 160h2v1h-2zM58 160h1v1h-1zM203 160h3v1h-3zM273 160h1v1h-1zM303 160h1v1h-1zM333 160h2v1h-2zM13 161h2v1h-2zM59 161h1v1h-1zM200 161h3v1h-3zM274 161h1v1h-1zM302 161h1v1h-1zM304 161h2v1h-2zM332 161h1v1h-1zM11 162h2v1h-2zM60 162h2v1h-2zM196 162h4v1h-4zM274 162h1v1h-1zM301 162h1v1h-1zM306 162h2v1h-2zM330 162h2v1h-2zM9 163h2v1h-2zM62 163h1v1h-1zM193 163h3v1h-3zM275 163h1v1h-1zM300 163h1v1h-1zM308 163h2v1h-2zM328 163h2v1h-2zM8 164h1v1h-1zM63 164h18v1h-18zM191 164h2v1h-2zM276 164h1v1h-1zM299 164h1v1h-1zM310 164h1v1h-1zM327 164h1v1h-1zM6 165h2v1h-2zM81 165h2v1h-2zM189 165h2v1h-2zM277 165h1v1h-1zM298 165h1v1h-1zM311 165h2v1h-2zM325 165h2v1h-2zM4 166h2v1h-2zM83 166h3v1h-3zM187 166h2v1h-2zM278 166h1v1h-1zM297 166h1v1h-1zM313 166h2v1h-2zM324 166h1v1h-1zM2 167h2v1h-2zM86 167h3v1h-3zM185 167h2v1h-2zM279 167h1v1h-1zM296 167h1v1h-1zM315 167h2v1h-2zM322 167h2v1h-2zM0 168h2v1h-2zM89 168h2v1h-2zM183 168h2v1h-2zM279 168h1v1h-1zM295 168h1v1h-1zM317 168h2v1h-2zM320 168h2v1h-2zM91 169h3v1h-3zM181 169h2v1h-2zM280 169h1v1h-1zM295 169h1v1h-1zM319 169h1v1h-1zM94 170h2v1h-2zM179 170h2v1h-2zM281 170h1v1h-1zM294 170h1v1h-1zM96 171h2v1h-2zM143 171h4v1h-4zM177 171h2v1h-2zM282 171h1v1h-1zM293 171h1v1h-1zM98 172h1v1h-1zM142 172h1v1h-1zM147 172h8v1h-8zM168 172h9v1h-9zM283 172h1v1h-1zM292 172h1v1h-1zM99 173h2v1h-2zM141 173h1v1h-1zM155 173h13v1h-13zM284 173h1v1h-1zM291 173h1v1h-1zM101 174h2v1h-2zM140 174h1v1h-1zM284 174h1v1h-1zM290 174h1v1h-1zM103 175h1v1h-1zM140 175h1v1h-1zM285 175h1v1h-1zM289 175h1v1h-1zM104 176h2v1h-2zM139 176h1v1h-1zM286 176h1v1h-1zM288 176h1v1h-1zM106 177h1v1h-1zM138 177h1v1h-1zM287 177h1v1h-1zM107 178h2v1h-2zM137 178h1v1h-1zM109 179h2v1h-2zM136 179h1v1h-1zM111 180h1v1h-1zM135 180h1v1h-1zM112 181h2v1h-2zM135 181h1v1h-1zM114 182h1v1h-1zM134 182h1v1h-1zM115 183h2v1h-2zM133 183h1v1h-1zM117 184h2v1h-2zM132 184h1v1h-1zM119 185h1v1h-1zM131 185h1v1h-1zM120 186h2v1h-2zM130 186h1v1h-1zM122 187h1v1h-1zM130 187h1v1h-1zM123 188h2v1h-2zM129 188h1v1h-1zM125 189h2v1h-2zM128 189h1v1h-1zM127 190h1v1h-1z" fill="#00FF00" shape-rendering="crispEdges"/><path d="M1055 179h1v1h-1zM1050 182h2v1h-2zM1049 183h1v1h-1zM1045 185h1v1h-1zM1044 186h1v1h-1zM1043 187h1v1h-1zM1039 189h1v1h-1zM1037 190h2v1h-2zM1032 193h2v1h-2zM1031 194h1v1h-1zM846 195h2v1h-2zM851 195h3v1h-3zM857 195h3v1h-3zM863 195h3v1h-3zM869 195h2v1h-2zM845 196h1v1h-1zM871 196h1v1h-1zM875 196h3v1h-3zM881 196h2v1h-2zM839 197h3v1h-3zM883 197h1v1h-1zM887 197h3v1h-3zM923 197h3v1h-3zM929 197h3v1h-3zM935 197h3v1h-3zM941 197h3v1h-3zM1026 197h2v1h-2zM834 198h2v1h-2zM893 198h3v1h-3zM899 198h3v1h-3zM905 198h3v1h-3zM911 198h3v1h-3zM917 198h3v1h-3zM947 198h3v1h-3zM953 198h2v1h-2zM1025 198h1v1h-1zM833 199h1v1h-1zM955 199h1v1h-1zM959 199h3v1h-3zM965 199h3v1h-3zM971 199h3v1h-3zM977 199h3v1h-3zM983 199h3v1h-3zM989 199h3v1h-3zM995 199h3v1h-3zM1001 199h3v1h-3zM1007 199h3v1h-3zM1013 199h3v1h-3zM1019 199h3v1h-3zM827 200h3v1h-3zM821 202h3v1h-3zM817 203h1v1h-1zM815 204h2v1h-2zM804 205h2v1h-2zM809 205h3v1h-3zM798 206h2v1h-2zM803 206h1v1h-1zM797 207h1v1h-1zM793 208h1v1h-1zM791 209h2v1h-2zM785 211h3v1h-3zM780 213h2v1h-2zM779 214h1v1h-1zM774 215h2v1h-2zM773 216h1v1h-1zM769 217h1v1h-1zM767 218h2v1h-2zM763 221h1v1h-1zM762 222h1v1h-1zM761 223h1v1h-1zM757 226h1v1h-1zM756 227h1v1h-1zM755 228h1v1h-1zM733 231h1v1h-1zM737 231h3v1h-3zM743 231h3v1h-3zM749 231h3v1h-3zM731 232h2v1h-2zM725 233h3v1h-3zM703 234h1v1h-1zM707 234h3v1h-3zM713 234h3v1h-3zM719 234h3v1h-3zM702 235h1v1h-1zM701 236h1v1h-1zM697 239h1v1h-1zM696 240h1v1h-1zM695 241h1v1h-1zM690 245h2v1h-2zM689 246h1v1h-1zM685 249h1v1h-1zM683 250h2v1h-2zM678 253h2v1h-2zM677 254h1v1h-1zM672 256h2v1h-2zM671 257h1v1h-1zM666 260h2v1h-2zM665 261h1v1h-1zM661 264h1v1h-1zM659 265h2v1h-2zM641 268h3v1h-3zM647 268h3v1h-3zM653 268h3v1h-3zM637 270h1v1h-1zM637 271h1v1h-1zM636 272h1v1h-1zM633 276h1v1h-1zM632 277h1v1h-1zM631 278h1v1h-1zM628 282h1v1h-1zM628 283h1v1h-1zM627 284h1v1h-1zM624 288h1v1h-1zM445 289h1v1h-1zM449 289h2v1h-2zM623 289h1v1h-1zM443 290h2v1h-2zM451 290h1v1h-1zM455 290h3v1h-3zM437 291h3v1h-3zM461 291h3v1h-3zM401 292h3v1h-3zM407 292h3v1h-3zM413 292h3v1h-3zM419 292h3v1h-3zM425 292h3v1h-3zM431 292h3v1h-3zM467 292h3v1h-3zM473 292h2v1h-2zM619 292h1v1h-1zM396 293h2v1h-2zM475 293h1v1h-1zM479 293h3v1h-3zM485 293h3v1h-3zM491 293h3v1h-3zM618 293h1v1h-1zM395 294h1v1h-1zM497 294h3v1h-3zM617 294h1v1h-1zM390 295h2v1h-2zM503 295h2v1h-2zM389 296h1v1h-1zM505 296h1v1h-1zM385 297h1v1h-1zM509 297h3v1h-3zM515 297h3v1h-3zM521 297h3v1h-3zM527 297h2v1h-2zM612 297h2v1h-2zM383 298h2v1h-2zM529 298h1v1h-1zM611 298h1v1h-1zM379 299h1v1h-1zM533 299h2v1h-2zM377 300h2v1h-2zM535 300h1v1h-1zM372 301h2v1h-2zM539 301h3v1h-3zM607 301h1v1h-1zM371 302h1v1h-1zM545 302h3v1h-3zM551 302h3v1h-3zM557 302h3v1h-3zM563 302h3v1h-3zM605 302h2v1h-2zM353 303h3v1h-3zM359 303h3v1h-3zM365 303h3v1h-3zM569 303h3v1h-3zM575 303h2v1h-2zM349 304h1v1h-1zM577 304h1v1h-1zM601 304h1v1h-1zM348 305h1v1h-1zM581 305h1v1h-1zM599 305h2v1h-2zM347 306h1v1h-1zM582 306h2v1h-2zM595 307h1v1h-1zM343 308h1v1h-1zM587 308h3v1h-3zM593 308h2v1h-2zM341 309h2v1h-2zM336 312h2v1h-2zM335 313h1v1h-1zM331 315h1v1h-1zM329 316h2v1h-2zM325 318h1v1h-1zM323 319h2v1h-2zM319 321h1v1h-1zM77 322h3v1h-3zM120 322h2v1h-2zM125 322h3v1h-3zM131 322h3v1h-3zM137 322h3v1h-3zM143 322h2v1h-2zM318 322h1v1h-1zM72 323h2v1h-2zM83 323h3v1h-3zM89 323h2v1h-2zM107 323h3v1h-3zM113 323h3v1h-3zM119 323h1v1h-1zM145 323h1v1h-1zM317 323h1v1h-1zM66 324h2v1h-2zM71 324h1v1h-1zM91 324h1v1h-1zM95 324h3v1h-3zM101 324h3v1h-3zM149 324h3v1h-3zM65 325h1v1h-1zM155 325h2v1h-2zM60 326h2v1h-2zM157 326h1v1h-1zM59 327h1v1h-1zM161 327h2v1h-2zM313 327h1v1h-1zM0 328h2v1h-2zM5 328h2v1h-2zM54 328h2v1h-2zM163 328h1v1h-1zM312 328h1v1h-1zM7 329h1v1h-1zM11 329h3v1h-3zM17 329h3v1h-3zM53 329h1v1h-1zM167 329h2v1h-2zM311 329h1v1h-1zM23 330h3v1h-3zM29 330h3v1h-3zM35 330h3v1h-3zM49 330h1v1h-1zM169 330h1v1h-1zM41 331h3v1h-3zM47 331h2v1h-2zM173 331h1v1h-1zM174 332h2v1h-2zM307 332h1v1h-1zM306 333h1v1h-1zM179 334h1v1h-1zM305 334h1v1h-1zM180 335h2v1h-2z" fill="#F4A460" shape-rendering="crispEdges"/><path d="M1039 231h1v1h-1zM1043 231h3v1h-3zM1049 231h3v1h-3zM1055 231h1v1h-1zM1038 232h1v1h-1zM1037 233h1v1h-1zM1033 237h1v1h-1zM1032 238h1v1h-1zM1031 239h1v1h-1zM1027 242h1v1h-1zM1026 243h1v1h-1zM1025 244h1v1h-1zM1021 248h1v1h-1zM1020 249h1v1h-1zM1019 250h1v1h-1zM1015 253h1v1h-1zM1014 254h1v1h-1zM1013 255h1v1h-1zM1009 258h1v1h-1zM1008 259h1v1h-1zM732 260h2v1h-2zM737 260h3v1h-3zM743 260h3v1h-3zM749 260h3v1h-3zM755 260h3v1h-3zM761 260h3v1h-3zM767 260h3v1h-3zM773 260h3v1h-3zM779 260h3v1h-3zM785 260h3v1h-3zM791 260h3v1h-3zM797 260h3v1h-3zM803 260h3v1h-3zM809 260h3v1h-3zM815 260h3v1h-3zM821 260h3v1h-3zM827 260h3v1h-3zM833 260h3v1h-3zM839 260h3v1h-3zM845 260h3v1h-3zM851 260h3v1h-3zM857 260h3v1h-3zM863 260h3v1h-3zM869 260h3v1h-3zM875 260h3v1h-3zM881 260h3v1h-3zM887 260h3v1h-3zM893 260h3v1h-3zM899 260h3v1h-3zM905 260h3v1h-3zM911 260h3v1h-3zM917 260h3v1h-3zM923 260h3v1h-3zM929 260h3v1h-3zM935 260h3v1h-3zM941 260h3v1h-3zM947 260h3v1h-3zM953 260h3v1h-3zM959 260h3v1h-3zM965 260h3v1h-3zM971 260h3v1h-3zM977 260h3v1h-3zM983 260h3v1h-3zM989 260h3v1h-3zM995 260h3v1h-3zM1001 260h3v1h-3zM1007 260h1v1h-1zM725 261h3v1h-3zM731 261h1v1h-1zM719 262h3v1h-3zM713 263h3v1h-3zM707 264h3v1h-3zM703 265h1v1h-1zM701 266h2v1h-2zM697 268h1v1h-1zM696 269h1v1h-1zM695 270h1v1h-1zM690 272h2v1h-2zM689 273h1v1h-1zM685 275h1v1h-1zM684 276h1v1h-1zM683 277h1v1h-1zM0 280h2v1h-2zM5 280h3v1h-3zM11 280h3v1h-3zM17 280h3v1h-3zM23 280h3v1h-3zM29 280h3v1h-3zM35 280h3v1h-3zM41 280h3v1h-3zM47 280h3v1h-3zM53 280h3v1h-3zM59 280h3v1h-3zM65 280h3v1h-3zM71 280h3v1h-3zM77 280h3v1h-3zM83 280h3v1h-3zM89 280h3v1h-3zM95 280h3v1h-3zM101 280h3v1h-3zM107 280h3v1h-3zM113 280h3v1h-3zM119 280h3v1h-3zM125 280h3v1h-3zM131 280h3v1h-3zM137 280h3v1h-3zM143 280h3v1h-3zM149 280h3v1h-3zM155 280h3v1h-3zM161 280h3v1h-3zM167 280h3v1h-3zM173 280h3v1h-3zM678 280h2v1h-2zM677 281h1v1h-1zM179 282h2v1h-2zM181 283h1v1h-1zM185 284h1v1h-1zM672 284h2v1h-2zM186 285h2v1h-2zM671 285h1v1h-1zM191 287h3v1h-3zM197 287h3v1h-3zM203 287h3v1h-3zM209 288h2v1h-2zM667 288h1v1h-1zM211 289h1v1h-1zM666 289h1v1h-1zM215 290h2v1h-2zM665 290h1v1h-1zM217 291h1v1h-1zM221 292h1v1h-1zM222 293h2v1h-2zM227 293h3v1h-3zM233 293h3v1h-3zM239 293h3v1h-3zM245 293h3v1h-3zM251 293h3v1h-3zM660 293h2v1h-2zM257 294h3v1h-3zM659 294h1v1h-1zM263 295h2v1h-2zM265 296h1v1h-1zM269 297h3v1h-3zM641 297h3v1h-3zM647 297h3v1h-3zM653 297h3v1h-3zM275 299h2v1h-2zM637 299h1v1h-1zM277 300h1v1h-1zM636 300h1v1h-1zM281 301h1v1h-1zM635 301h1v1h-1zM282 302h2v1h-2zM287 304h2v1h-2zM289 305h1v1h-1zM630 305h2v1h-2zM293 306h1v1h-1zM629 306h1v1h-1zM294 307h2v1h-2zM299 309h3v1h-3zM305 310h3v1h-3zM625 310h1v1h-1zM311 311h3v1h-3zM317 311h3v1h-3zM323 311h3v1h-3zM624 311h1v1h-1zM329 312h3v1h-3zM335 312h3v1h-3zM341 312h3v1h-3zM347 312h3v1h-3zM353 312h3v1h-3zM359 312h3v1h-3zM365 312h3v1h-3zM371 312h3v1h-3zM377 312h3v1h-3zM383 312h3v1h-3zM389 312h3v1h-3zM395 312h3v1h-3zM401 312h3v1h-3zM407 312h3v1h-3zM413 312h3v1h-3zM419 312h3v1h-3zM425 312h3v1h-3zM431 312h3v1h-3zM437 312h3v1h-3zM443 312h3v1h-3zM449 312h3v1h-3zM455 312h3v1h-3zM461 312h3v1h-3zM467 312h3v1h-3zM473 312h3v1h-3zM479 312h3v1h-3zM485 312h3v1h-3zM491 312h3v1h-3zM497 312h3v1h-3zM503 312h3v1h-3zM509 312h3v1h-3zM515 312h3v1h-3zM521 312h3v1h-3zM527 312h3v1h-3zM533 312h3v1h-3zM539 312h3v1h-3zM545 312h3v1h-3zM551 312h3v1h-3zM557 312h3v1h-3zM563 312h3v1h-3zM569 312h3v1h-3zM575 312h3v1h-3zM581 312h3v1h-3zM587 312h3v1h-3zM593 312h3v1h-3zM599 312h3v1h-3zM605 312h3v1h-3zM611 312h3v1h-3zM617 312h3v1h-3zM623 312h1v1h-1z" fill="#D8BFD8" shape-rendering="crispEdges"/><path d="M0 141.5H1060M0 157.5H1060" stroke="#FF0000" fill="none"/><rect x="0.5" y="139.5" width="4" height="4" fill="#FFFFFF" stroke="#FF0000"/><rect x="1055.5" y="139.5" width="4" height="4" fill="#FFFFFF" stroke="#FF0000"/><rect x="0.5" y="155.5" width="4" height="4" fill="#FFFFFF" stroke="#FF0000"/><rect x="1055.5" y="155.5" width="4" height="4" fill="#FFFFFF" stroke="#FF0000"/></g><g clip-path="url(#cs)"><path d="M302 346h9v1h-9zM412 346h4v1h-4zM299 347h3v1h-3zM311 347h10v1h-10zM404 347h8v1h-8zM416 347h1v1h-1zM296 348h3v1h-3zM321 348h2v1h-2zM399 348h5v1h-5zM417 348h1v1h-1zM292 349h4v1h-4zM323 349h3v1h-3zM397 349h2v1h-2zM418 349h1v1h-1zM289 350h3v1h-3zM326 350h3v1h-3zM395 350h2v1h-2zM419 350h1v1h-1zM286 351h3v1h-3zM329 351h2v1h-2zM393 351h2v1h-2zM420 351h1v1h-1zM284 352h2v1h-2zM331 352h3v1h-3zM344 352h9v1h-9zM391 352h2v1h-2zM421 352h1v1h-1zM282 353h2v1h-2zM334 353h10v1h-10zM353 353h3v1h-3zM389 353h2v1h-2zM422 353h1v1h-1zM280 354h2v1h-2zM356 354h3v1h-3zM387 354h2v1h-2zM423 354h1v1h-1zM277 355h3v1h-3zM359 355h4v1h-4zM385 355h2v1h-2zM423 355h1v1h-1zM275 356h2v1h-2zM363 356h3v1h-3zM376 356h9v1h-9zM424 356h1v1h-1zM273 357h2v1h-2zM366 357h10v1h-10zM425 357h1v1h-1zM270 358h3v1h-3zM426 358h1v1h-1zM267 359h3v1h-3zM427 359h1v1h-1zM264 360h3v1h-3zM428 360h1v1h-1zM260 361h4v1h-4zM429 361h1v1h-1zM257 362h3v1h-3zM430 362h1v1h-1zM957 362h3v1h-3zM255 363h2v1h-2zM431 363h1v1h-1zM952 363h5v1h-5zM960 363h1v1h-1zM254 364h1v1h-1zM432 364h1v1h-1zM946 364h6v1h-6zM961 364h1v1h-1zM254 365h1v1h-1zM433 365h2v1h-2zM942 365h4v1h-4zM962 365h1v1h-1zM253 366h1v1h-1zM435 366h1v1h-1zM940 366h2v1h-2zM963 366h1v1h-1zM252 367h1v1h-1zM436 367h1v1h-1zM937 367h3v1h-3zM963 367h1v1h-1zM252 368h1v1h-1zM437 368h2v1h-2zM934 368h3v1h-3zM964 368h1v1h-1zM0 369h2v1h-2zM251 369h1v1h-1zM439 369h1v1h-1zM932 369h2v1h-2zM965 369h1v1h-1zM2 370h2v1h-2zM250 370h1v1h-1zM440 370h1v1h-1zM929 370h3v1h-3zM966 370h1v1h-1zM4 371h2v1h-2zM250 371h1v1h-1zM441 371h2v1h-2zM462 371h2v1h-2zM926 371h3v1h-3zM967 371h1v1h-1zM6 372h2v1h-2zM249 372h1v1h-1zM443 372h1v1h-1zM458 372h4v1h-4zM464 372h1v1h-1zM922 372h4v1h-4zM968 372h1v1h-1zM8 373h2v1h-2zM248 373h1v1h-1zM444 373h1v1h-1zM454 373h4v1h-4zM465 373h1v1h-1zM918 373h4v1h-4zM969 373h1v1h-1zM10 374h2v1h-2zM248 374h1v1h-1zM445 374h2v1h-2zM450 374h4v1h-4zM466 374h1v1h-1zM914 374h4v1h-4zM970 374h1v1h-1zM12 375h2v1h-2zM247 375h1v1h-1zM447 375h3v1h-3zM467 375h1v1h-1zM910 375h4v1h-4zM971 375h1v1h-1zM14 376h2v1h-2zM246 376h1v1h-1zM468 376h1v1h-1zM906 376h4v1h-4zM971 376h1v1h-1zM16 377h1v1h-1zM246 377h1v1h-1zM469 377h1v1h-1zM844 377h5v1h-5zM902 377h4v1h-4zM972 377h1v1h-1zM17 378h1v1h-1zM245 378h1v1h-1zM470 378h1v1h-1zM836 378h8v1h-8zM849 378h3v1h-3zM898 378h4v1h-4zM973 378h1v1h-1zM18 379h1v1h-1zM244 379h1v1h-1zM471 379h1v1h-1zM830 379h6v1h-6zM852 379h3v1h-3zM888 379h10v1h-10zM974 379h1v1h-1zM19 380h1v1h-1zM223 380h2v1h-2zM244 380h1v1h-1zM471 380h1v1h-1zM828 380h2v1h-2zM855 380h4v1h-4zM876 380h12v1h-12zM975 380h3v1h-3zM20 381h1v1h-1zM222 381h1v1h-1zM225 381h2v1h-2zM243 381h1v1h-1zM472 381h1v1h-1zM825 381h3v1h-3zM859 381h3v1h-3zM868 381h8v1h-8zM978 381h5v1h-5zM21 382h1v1h-1zM221 382h1v1h-1zM227 382h2v1h-2zM242 382h1v1h-1zM473 382h1v1h-1zM822 382h3v1h-3zM862 382h6v1h-6zM983 382h6v1h-6zM22 383h1v1h-1zM220 383h1v1h-1zM229 383h2v1h-2zM242 383h1v1h-1zM474 383h1v1h-1zM820 383h2v1h-2zM989 383h4v1h-4zM23 384h1v1h-1zM219 384h1v1h-1zM231 384h3v1h-3zM241 384h1v1h-1zM475 384h1v1h-1zM817 384h3v1h-3zM993 384h2v1h-2zM23 385h1v1h-1zM219 385h1v1h-1zM234 385h2v1h-2zM240 385h1v1h-1zM476 385h1v1h-1zM765 385h4v1h-4zM813 385h4v1h-4zM995 385h2v1h-2zM24 386h1v1h-1zM218 386h1v1h-1zM236 386h2v1h-2zM240 386h1v1h-1zM477 386h1v1h-1zM760 386h5v1h-5zM769 386h4v1h-4zM808 386h5v1h-5zM997 386h2v1h-2zM25 387h1v1h-1zM217 387h1v1h-1zM238 387h2v1h-2zM478 387h1v1h-1zM754 387h6v1h-6zM773 387h4v1h-4zM802 387h6v1h-6zM999 387h3v1h-3zM26 388h1v1h-1zM216 388h1v1h-1zM479 388h3v1h-3zM638 388h3v1h-3zM750 388h4v1h-4zM777 388h4v1h-4zM792 388h10v1h-10zM1002 388h2v1h-2zM27 389h1v1h-1zM215 389h1v1h-1zM482 389h5v1h-5zM634 389h4v1h-4zM641 389h3v1h-3zM748 389h2v1h-2zM781 389h11v1h-11zM1004 389h2v1h-2zM28 390h1v1h-1zM214 390h1v1h-1zM487 390h6v1h-6zM630 390h4v1h-4zM644 390h3v1h-3zM745 390h3v1h-3zM1006 390h9v1h-9zM29 391h1v1h-1zM213 391h1v1h-1zM493 391h4v1h-4zM606 391h9v1h-9zM626 391h4v1h-4zM647 391h4v1h-4zM742 391h3v1h-3zM1015 391h12v1h-12zM30 392h1v1h-1zM40 392h9v1h-9zM212 392h1v1h-1zM497 392h2v1h-2zM602 392h4v1h-4zM615 392h11v1h-11zM651 392h3v1h-3zM740 392h2v1h-2zM1027 392h8v1h-8zM31 393h9v1h-9zM49 393h2v1h-2zM211 393h1v1h-1zM499 393h3v1h-3zM598 393h4v1h-4zM654 393h5v1h-5zM737 393h3v1h-3zM1035 393h5v1h-5zM51 394h2v1h-2zM211 394h1v1h-1zM502 394h3v1h-3zM594 394h4v1h-4zM659 394h8v1h-8zM718 394h19v1h-19zM53 395h2v1h-2zM210 395h1v1h-1zM505 395h2v1h-2zM590 395h4v1h-4zM667 395h8v1h-8zM714 395h4v1h-4zM55 396h3v1h-3zM93 396h10v1h-10zM209 396h1v1h-1zM507 396h3v1h-3zM559 396h3v1h-3zM586 396h4v1h-4zM675 396h8v1h-8zM710 396h4v1h-4zM58 397h2v1h-2zM88 397h5v1h-5zM103 397h9v1h-9zM208 397h1v1h-1zM510 397h2v1h-2zM557 397h2v1h-2zM562 397h5v1h-5zM582 397h4v1h-4zM683 397h12v1h-12zM706 397h4v1h-4zM60 398h2v1h-2zM82 398h6v1h-6zM112 398h2v1h-2zM207 398h1v1h-1zM512 398h2v1h-2zM556 398h1v1h-1zM567 398h6v1h-6zM578 398h4v1h-4zM695 398h11v1h-11zM62 399h20v1h-20zM114 399h1v1h-1zM206 399h1v1h-1zM514 399h2v1h-2zM554 399h2v1h-2zM573 399h5v1h-5zM115 400h2v1h-2zM205 400h1v1h-1zM516 400h2v1h-2zM553 400h1v1h-1zM117 401h2v1h-2zM204 401h1v1h-1zM518 401h2v1h-2zM552 401h1v1h-1zM119 402h1v1h-1zM142 402h2v1h-2zM204 402h1v1h-1zM520 402h2v1h-2zM550 402h2v1h-2zM120 403h2v1h-2zM139 403h3v1h-3zM144 403h2v1h-2zM203 403h1v1h-1zM522 403h2v1h-2zM549 403h1v1h-1zM122 404h1v1h-1zM136 404h3v1h-3zM146 404h2v1h-2zM202 404h1v1h-1zM524 404h2v1h-2zM547 404h2v1h-2zM123 405h2v1h-2zM132 405h4v1h-4zM148 405h2v1h-2zM201 405h1v1h-1zM526 405h5v1h-5zM546 405h1v1h-1zM125 406h2v1h-2zM129 406h3v1h-3zM150 406h2v1h-2zM200 406h1v1h-1zM531 406h8v1h-8zM544 406h2v1h-2zM127 407h2v1h-2zM152 407h2v1h-2zM199 407h1v1h-1zM539 407h5v1h-5zM154 408h2v1h-2zM199 408h1v1h-1zM156 409h2v1h-2zM198 409h1v1h-1zM158 410h4v1h-4zM197 410h1v1h-1zM162 411h5v1h-5zM196 411h1v1h-1zM167 412h6v1h-6zM195 412h1v1h-1zM173 413h4v1h-4zM194 413h1v1h-1zM177 414h4v1h-4zM194 414h1v1h-1zM181 415h4v1h-4zM193 415h1v1h-1zM185 416h4v1h-4zM192 416h1v1h-1zM189 417h3v1h-3z" fill="#1E90FF" shape-rendering="crispEdges"/></g><path d="M0 336.5H1060.5M0 338.5H1060.5M0 425.5H1061M1060.5 0V426" stroke="#FFFFFF" fill="none"/><path d="M1061 16.5H1065M1061 48.5H1065M1061 80.5H1065M1061 112.5H1065M1061 144.5H1065M1061 176.5H1065M1061 208.5H1065M1061 240.5H1065M1061 272.5H1065M1061 304.5H1065M1061 339.5H1065M1061 424.5H1065M63.5 426V430M127.5 426V430M191.5 426V430M255.5 426V430M319.5 426V430M383.5 426V430M447.5 426V430M511.5 426V430M575.5 426V430M639.5 426V430M703.5 426V430M767.5 426V430M831.5 426V430M895.5 426V430M959.5 426V430M1023.5 426V430" stroke="#FFFFFF" fill="none"/><rect x="1063" y="127" width="39" height="11" fill="#778899"/><rect x="1063" y="136" width="39" height="11" fill="#FF0000"/><rect x="1063" y="152" width="39" height="11" fill="#FF0000"/><g shape-rendering="crispEdges"><rect x="3" y="3" width="15" height="12" fill="#FFFFFF"/><rect x="3" y="3" width="15" height="1" fill="#5A5AF5"/><rect x="3" y="4" width="15" height="1" fill="#A8A8FF"/><rect x="4" y="5" width="13" height="1" fill="#8C8CC8"/><rect x="5" y="7" width="5" height="7" fill="#F2C2C2"/><rect x="11" y="7" width="5" height="7" fill="#C6C6F8"/><rect x="5" y="7" width="5" height="1" fill="#DC6464"/><rect x="11" y="7" width="5" height="1" fill="#5A5AEE"/><rect x="5" y="9" width="5" height="1" fill="#DC6464"/><rect x="11" y="9" width="5" height="1" fill="#5A5AEE"/><rect x="5" y="11" width="5" height="1" fill="#DC6464"/><rect x="11" y="11" width="5" height="1" fill="#5A5AEE"/><rect x="5" y="13" width="5" height="1" fill="#DC6464"/><rect x="11" y="13" width="5" height="1" fill="#5A5AEE"/><path d="M20 4H24V8H27V15H20Z" fill="#2424EE"/><rect x="20" y="4" width="2" height="6" fill="#5050F8"/><path d="M31 4H35V15H28V8H31Z" fill="#C42C2C"/><rect x="32" y="4" width="2" height="4" fill="#DC5A5A"/><rect x="24" y="4" width="7" height="3" fill="#D8D8D0"/><rect x="25" y="6" width="5" height="1" fill="#808080"/><rect x="27" y="7" width="1" height="8" fill="#B4B4B4"/><rect x="21" y="13" width="5" height="1" fill="#A0A0FF"/><rect x="29" y="13" width="5" height="1" fill="#F0A0A0"/></g><defs><filter id="tx" color-interpolation-filters="sRGB"><feComponentTransfer><feFuncA type="table" tableValues="0 0.15 0.85 1 1"/></feComponentTransfer></filter></defs><g filter="url(#tx)" style="will-change:transform"><text x="40.5" y="12.6" fill="#FFFFFF" style="font-family:'DejaVu Sans','Liberation Sans',sans-serif;font-size:9px;letter-spacing:0px" text-anchor="start">GBPUSD,Daily</text></g><rect x="2" y="342" width="96" height="11" fill="#000"/><g filter="url(#tx)" style="will-change:transform"><text transform="translate(2.5 350.6) scale(0.91 1)" fill="#FFFFFF" style="font-family:'DejaVu Sans','Liberation Sans',sans-serif;font-size:9px;letter-spacing:0px" text-anchor="start">Momentum(14) 100.18</text><text transform="translate(1066.3 19.6) scale(0.86 1)" fill="#FFFFFF" style="font-family:'DejaVu Sans','Liberation Sans',sans-serif;font-size:9px;letter-spacing:0px" text-anchor="start">1.34940</text><text transform="translate(1066.3 51.6) scale(0.86 1)" fill="#FFFFFF" style="font-family:'DejaVu Sans','Liberation Sans',sans-serif;font-size:9px;letter-spacing:0px" text-anchor="start">1.33615</text><text transform="translate(1066.3 83.6) scale(0.86 1)" fill="#FFFFFF" style="font-family:'DejaVu Sans','Liberation Sans',sans-serif;font-size:9px;letter-spacing:0px" text-anchor="start">1.32290</text><text transform="translate(1066.3 115.6) scale(0.86 1)" fill="#FFFFFF" style="font-family:'DejaVu Sans','Liberation Sans',sans-serif;font-size:9px;letter-spacing:0px" text-anchor="start">1.30965</text><text transform="translate(1066.3 147.6) scale(0.86 1)" fill="#FFFFFF" style="font-family:'DejaVu Sans','Liberation Sans',sans-serif;font-size:9px;letter-spacing:0px" text-anchor="start">1.29640</text><text transform="translate(1066.3 179.6) scale(0.86 1)" fill="#FFFFFF" style="font-family:'DejaVu Sans','Liberation Sans',sans-serif;font-size:9px;letter-spacing:0px" text-anchor="start">1.28315</text><text transform="translate(1066.3 211.6) scale(0.86 1)" fill="#FFFFFF" style="font-family:'DejaVu Sans','Liberation Sans',sans-serif;font-size:9px;letter-spacing:0px" text-anchor="start">1.26990</text><text transform="translate(1066.3 243.6) scale(0.86 1)" fill="#FFFFFF" style="font-family:'DejaVu Sans','Liberation Sans',sans-serif;font-size:9px;letter-spacing:0px" text-anchor="start">1.25665</text><text transform="translate(1066.3 275.6) scale(0.86 1)" fill="#FFFFFF" style="font-family:'DejaVu Sans','Liberation Sans',sans-serif;font-size:9px;letter-spacing:0px" text-anchor="start">1.24340</text><text transform="translate(1066.3 307.6) scale(0.86 1)" fill="#FFFFFF" style="font-family:'DejaVu Sans','Liberation Sans',sans-serif;font-size:9px;letter-spacing:0px" text-anchor="start">1.23015</text></g><rect x="1063" y="136" width="39" height="11" fill="#FF0000"/><g filter="url(#tx)" style="will-change:transform"><text transform="translate(1066.3 135.6) scale(0.86 1)" fill="#000000" style="font-family:'DejaVu Sans','Liberation Sans',sans-serif;font-size:9px;letter-spacing:0px" text-anchor="start">1.30148</text><text transform="translate(1066.3 144.6) scale(0.86 1)" fill="#000000" style="font-family:'DejaVu Sans','Liberation Sans',sans-serif;font-size:9px;letter-spacing:0px" text-anchor="start">1.29746</text><text transform="translate(1066.3 160.6) scale(0.86 1)" fill="#000000" style="font-family:'DejaVu Sans','Liberation Sans',sans-serif;font-size:9px;letter-spacing:0px" text-anchor="start">1.29100</text><text transform="translate(1066.3 346.6) scale(0.86 1)" fill="#FFFFFF" style="font-family:'DejaVu Sans','Liberation Sans',sans-serif;font-size:9px;letter-spacing:0px" text-anchor="start">106.36</text><text transform="translate(1066.3 422.6) scale(0.86 1)" fill="#FFFFFF" style="font-family:'DejaVu Sans','Liberation Sans',sans-serif;font-size:9px;letter-spacing:0px" text-anchor="start">96.60</text><text transform="translate(-1.5 437.6) scale(0.92 1)" fill="#FFFFFF" style="font-family:'DejaVu Sans','Liberation Sans',sans-serif;font-size:9px;letter-spacing:0px" text-anchor="start">23 Sep 2019</text><text transform="translate(62.5 437.6) scale(0.92 1)" fill="#FFFFFF" style="font-family:'DejaVu Sans','Liberation Sans',sans-serif;font-size:9px;letter-spacing:0px" text-anchor="start">27 Sep 2019</text><text transform="translate(126.5 437.6) scale(0.92 1)" fill="#FFFFFF" style="font-family:'DejaVu Sans','Liberation Sans',sans-serif;font-size:9px;letter-spacing:0px" text-anchor="start">3 Oct 2019</text><text transform="translate(190.5 437.6) scale(0.92 1)" fill="#FFFFFF" style="font-family:'DejaVu Sans','Liberation Sans',sans-serif;font-size:9px;letter-spacing:0px" text-anchor="start">9 Oct 2019</text><text transform="translate(254.5 437.6) scale(0.92 1)" fill="#FFFFFF" style="font-family:'DejaVu Sans','Liberation Sans',sans-serif;font-size:9px;letter-spacing:0px" text-anchor="start">15 Oct 2019</text><text transform="translate(318.5 437.6) scale(0.92 1)" fill="#FFFFFF" style="font-family:'DejaVu Sans','Liberation Sans',sans-serif;font-size:9px;letter-spacing:0px" text-anchor="start">21 Oct 2019</text><text transform="translate(382.5 437.6) scale(0.92 1)" fill="#FFFFFF" style="font-family:'DejaVu Sans','Liberation Sans',sans-serif;font-size:9px;letter-spacing:0px" text-anchor="start">25 Oct 2019</text><text transform="translate(446.5 437.6) scale(0.92 1)" fill="#FFFFFF" style="font-family:'DejaVu Sans','Liberation Sans',sans-serif;font-size:9px;letter-spacing:0px" text-anchor="start">31 Oct 2019</text><text transform="translate(510.5 437.6) scale(0.92 1)" fill="#FFFFFF" style="font-family:'DejaVu Sans','Liberation Sans',sans-serif;font-size:9px;letter-spacing:0px" text-anchor="start">6 Nov 2019</text><text transform="translate(574.5 437.6) scale(0.92 1)" fill="#FFFFFF" style="font-family:'DejaVu Sans','Liberation Sans',sans-serif;font-size:9px;letter-spacing:0px" text-anchor="start">12 Nov 2019</text><text transform="translate(638.5 437.6) scale(0.92 1)" fill="#FFFFFF" style="font-family:'DejaVu Sans','Liberation Sans',sans-serif;font-size:9px;letter-spacing:0px" text-anchor="start">18 Nov 2019</text><text transform="translate(702.5 437.6) scale(0.92 1)" fill="#FFFFFF" style="font-family:'DejaVu Sans','Liberation Sans',sans-serif;font-size:9px;letter-spacing:0px" text-anchor="start">22 Nov 2019</text><text transform="translate(766.5 437.6) scale(0.92 1)" fill="#FFFFFF" style="font-family:'DejaVu Sans','Liberation Sans',sans-serif;font-size:9px;letter-spacing:0px" text-anchor="start">28 Nov 2019</text><text transform="translate(830.5 437.6) scale(0.92 1)" fill="#FFFFFF" style="font-family:'DejaVu Sans','Liberation Sans',sans-serif;font-size:9px;letter-spacing:0px" text-anchor="start">4 Dec 2019</text><text transform="translate(894.5 437.6) scale(0.92 1)" fill="#FFFFFF" style="font-family:'DejaVu Sans','Liberation Sans',sans-serif;font-size:9px;letter-spacing:0px" text-anchor="start">10 Dec 2019</text><text transform="translate(958.5 437.6) scale(0.92 1)" fill="#FFFFFF" style="font-family:'DejaVu Sans','Liberation Sans',sans-serif;font-size:9px;letter-spacing:0px" text-anchor="start">16 Dec 2019</text><text transform="translate(1022.5 437.6) scale(0.92 1)" fill="#FFFFFF" style="font-family:'DejaVu Sans','Liberation Sans',sans-serif;font-size:9px;letter-spacing:0px" text-anchor="start">20 Dec 2019</text></g></svg></body></html>
